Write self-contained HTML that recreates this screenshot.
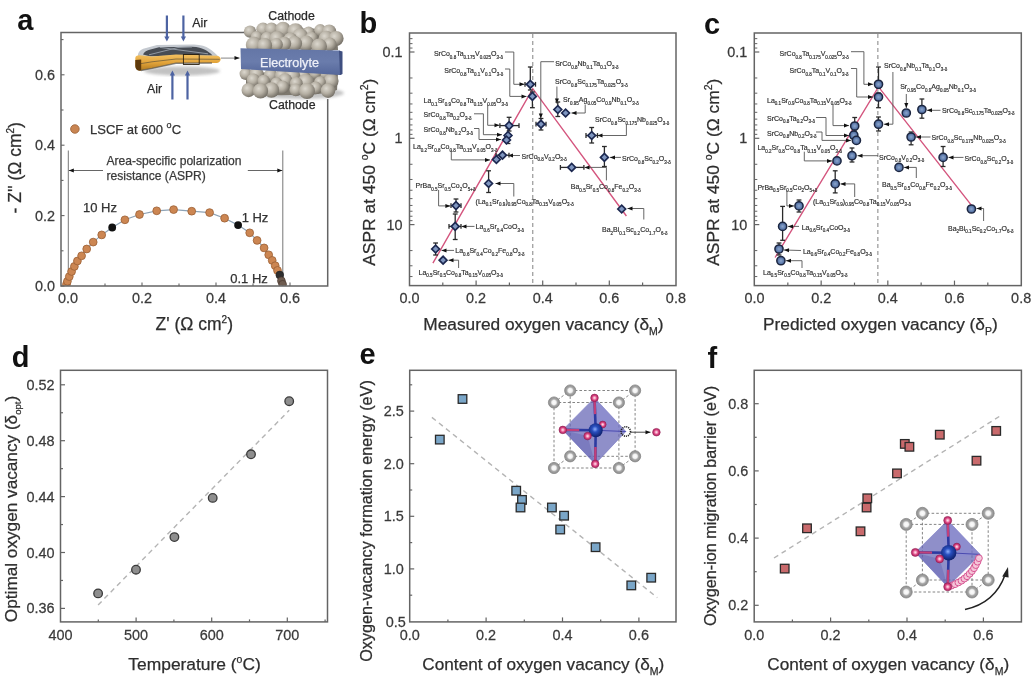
<!DOCTYPE html>
<html><head><meta charset="utf-8"><style>
html,body{margin:0;padding:0;background:#fff;}
svg{display:block;font-family:"Liberation Sans",sans-serif;filter:blur(0.3px);}

</style></head><body>
<svg width="1035" height="691" viewBox="0 0 1035 691">
<rect width="1035" height="691" fill="#fff"/>
<text x="17.20" y="29.60" font-size="29" text-anchor="start" fill="#111" stroke="#111" stroke-width="0" font-weight="bold" >a</text>
<text x="359.60" y="33.00" font-size="29" text-anchor="start" fill="#111" stroke="#111" stroke-width="0" font-weight="bold" >b</text>
<text x="704.00" y="33.50" font-size="29" text-anchor="start" fill="#111" stroke="#111" stroke-width="0" font-weight="bold" >c</text>
<text x="11.80" y="367.20" font-size="29" text-anchor="start" fill="#111" stroke="#111" stroke-width="0" font-weight="bold" >d</text>
<text x="359.60" y="364.00" font-size="29" text-anchor="start" fill="#111" stroke="#111" stroke-width="0" font-weight="bold" >e</text>
<text x="707.60" y="368.30" font-size="29" text-anchor="start" fill="#111" stroke="#111" stroke-width="0" font-weight="bold" >f</text>
<line x1="68.00" y1="286.00" x2="68.00" y2="282.50" stroke="#646464" stroke-width="1.1" />
<line x1="105.00" y1="286.00" x2="105.00" y2="283.50" stroke="#646464" stroke-width="1.1" />
<line x1="142.00" y1="286.00" x2="142.00" y2="282.50" stroke="#646464" stroke-width="1.1" />
<line x1="179.00" y1="286.00" x2="179.00" y2="283.50" stroke="#646464" stroke-width="1.1" />
<line x1="216.00" y1="286.00" x2="216.00" y2="282.50" stroke="#646464" stroke-width="1.1" />
<line x1="253.00" y1="286.00" x2="253.00" y2="283.50" stroke="#646464" stroke-width="1.1" />
<line x1="290.00" y1="286.00" x2="290.00" y2="282.50" stroke="#646464" stroke-width="1.1" />
<line x1="61.00" y1="286.00" x2="64.50" y2="286.00" stroke="#646464" stroke-width="1.1" />
<line x1="61.00" y1="250.80" x2="63.50" y2="250.80" stroke="#646464" stroke-width="1.1" />
<line x1="61.00" y1="215.60" x2="64.50" y2="215.60" stroke="#646464" stroke-width="1.1" />
<line x1="61.00" y1="180.40" x2="63.50" y2="180.40" stroke="#646464" stroke-width="1.1" />
<line x1="61.00" y1="145.20" x2="64.50" y2="145.20" stroke="#646464" stroke-width="1.1" />
<line x1="61.00" y1="110.00" x2="63.50" y2="110.00" stroke="#646464" stroke-width="1.1" />
<line x1="61.00" y1="74.80" x2="64.50" y2="74.80" stroke="#646464" stroke-width="1.1" />
<line x1="61.00" y1="39.60" x2="63.50" y2="39.60" stroke="#646464" stroke-width="1.1" />
<text transform="translate(68.00,303.00) scale(0.95,1)" font-size="15.2" text-anchor="middle" fill="#3a3a3a" stroke="#3a3a3a" stroke-width="0.25">0.0</text>
<text transform="translate(55.00,291.00) scale(0.95,1)" font-size="15.2" text-anchor="end" fill="#3a3a3a" stroke="#3a3a3a" stroke-width="0.25">0.0</text>
<text transform="translate(142.00,303.00) scale(0.95,1)" font-size="15.2" text-anchor="middle" fill="#3a3a3a" stroke="#3a3a3a" stroke-width="0.25">0.2</text>
<text transform="translate(55.00,220.60) scale(0.95,1)" font-size="15.2" text-anchor="end" fill="#3a3a3a" stroke="#3a3a3a" stroke-width="0.25">0.2</text>
<text transform="translate(216.00,303.00) scale(0.95,1)" font-size="15.2" text-anchor="middle" fill="#3a3a3a" stroke="#3a3a3a" stroke-width="0.25">0.4</text>
<text transform="translate(55.00,150.20) scale(0.95,1)" font-size="15.2" text-anchor="end" fill="#3a3a3a" stroke="#3a3a3a" stroke-width="0.25">0.4</text>
<text transform="translate(290.00,303.00) scale(0.95,1)" font-size="15.2" text-anchor="middle" fill="#3a3a3a" stroke="#3a3a3a" stroke-width="0.25">0.6</text>
<text transform="translate(55.00,79.80) scale(0.95,1)" font-size="15.2" text-anchor="end" fill="#3a3a3a" stroke="#3a3a3a" stroke-width="0.25">0.6</text>
<text x="194.30" y="329.50" font-size="17.5" text-anchor="middle" fill="#2e2e2e" stroke="#2e2e2e" stroke-width="0.25" font-weight="normal" >Z' (&#937; cm<tspan font-size='10' dy='-7'>2</tspan><tspan dy='7'>)</tspan></text>
<g transform="translate(20.5,167.8) rotate(-90)">
<text x="0.00" y="0.00" font-size="17.5" text-anchor="middle" fill="#2e2e2e" stroke="#2e2e2e" stroke-width="0.25" font-weight="normal" >- Z'' (&#937; cm<tspan font-size='10' dy='-7'>2</tspan><tspan dy='7'>)</tspan></text>
</g>
<line x1="68.30" y1="150.50" x2="68.30" y2="286.00" stroke="#777" stroke-width="1" />
<line x1="282.80" y1="150.50" x2="282.80" y2="286.00" stroke="#777" stroke-width="1" />
<path d="M103.00,170.50 L68.80,170.50" fill="none" stroke="#555" stroke-width="0.9"/>
<path d="M68.80,170.50 L73.80,168.50 L73.80,172.50 Z" fill="#111"/>
<path d="M247.80,170.50 L282.30,170.50" fill="none" stroke="#555" stroke-width="0.9"/>
<path d="M282.30,170.50 L277.30,172.50 L277.30,168.50 Z" fill="#111"/>
<text x="106.40" y="165.20" font-size="12.1" text-anchor="start" fill="#3a3a3a" stroke="#3a3a3a" stroke-width="0.25" font-weight="normal" >Area-specific polarization</text>
<text x="106.40" y="179.50" font-size="12.1" text-anchor="start" fill="#3a3a3a" stroke="#3a3a3a" stroke-width="0.25" font-weight="normal" >resistance (ASPR)</text>
<circle cx="74.9" cy="129" r="4.3" fill="#c98552" stroke="#9a5f35" stroke-width="0.8"/>
<text x="90.00" y="133.50" font-size="13" text-anchor="start" fill="#333" stroke="#333" stroke-width="0.25" font-weight="normal" >LSCF at 600 <tspan font-size="9" dy="-6">o</tspan><tspan dy="6">C</tspan></text>
<clipPath id="clipa"><rect x="61" y="32.5" width="266.7" height="253.3"/></clipPath><g clip-path="url(#clipa)">
<path d="M66.5,284.3 L67.4,281.3 L69.3,276.6 L71.6,271.5 L74.4,266.4 L77.4,261.0 L81.6,255.8 L86.7,249.0 L93.2,242.1 L101.7,234.9 L112.2,227.5 L124.9,219.8 L139.5,214.5 L156.7,210.8 L173.6,209.6 L191.7,211.2 L209.6,212.6 L224.6,218.2 L238.1,225.1 L249.7,232.8 L257.1,240.4 L264.1,247.9 L268.7,254.8 L272.2,260.4 L275.2,265.7 L277.5,270.4 L279.8,275.0 L281.4,280.8 L282.6,284.3" fill="none" stroke="#8ea3b6" stroke-width="1.2"/>
<circle cx="66.5" cy="284.3" r="3.9" fill="#cc8652" stroke="#9a5f35" stroke-width="0.8"/>
<circle cx="67.4" cy="281.3" r="3.9" fill="#cc8652" stroke="#9a5f35" stroke-width="0.8"/>
<circle cx="69.3" cy="276.6" r="3.9" fill="#cc8652" stroke="#9a5f35" stroke-width="0.8"/>
<circle cx="71.6" cy="271.5" r="3.9" fill="#cc8652" stroke="#9a5f35" stroke-width="0.8"/>
<circle cx="74.4" cy="266.4" r="3.9" fill="#cc8652" stroke="#9a5f35" stroke-width="0.8"/>
<circle cx="77.4" cy="261" r="3.9" fill="#cc8652" stroke="#9a5f35" stroke-width="0.8"/>
<circle cx="81.6" cy="255.8" r="3.9" fill="#cc8652" stroke="#9a5f35" stroke-width="0.8"/>
<circle cx="86.7" cy="249" r="3.9" fill="#cc8652" stroke="#9a5f35" stroke-width="0.8"/>
<circle cx="93.2" cy="242.1" r="3.9" fill="#cc8652" stroke="#9a5f35" stroke-width="0.8"/>
<circle cx="101.7" cy="234.9" r="3.9" fill="#cc8652" stroke="#9a5f35" stroke-width="0.8"/>
<circle cx="112.2" cy="227.5" r="3.9" fill="#111"/>
<circle cx="124.9" cy="219.8" r="3.9" fill="#cc8652" stroke="#9a5f35" stroke-width="0.8"/>
<circle cx="139.5" cy="214.5" r="3.9" fill="#cc8652" stroke="#9a5f35" stroke-width="0.8"/>
<circle cx="156.7" cy="210.8" r="3.9" fill="#cc8652" stroke="#9a5f35" stroke-width="0.8"/>
<circle cx="173.6" cy="209.6" r="3.9" fill="#cc8652" stroke="#9a5f35" stroke-width="0.8"/>
<circle cx="191.7" cy="211.2" r="3.9" fill="#cc8652" stroke="#9a5f35" stroke-width="0.8"/>
<circle cx="209.6" cy="212.6" r="3.9" fill="#cc8652" stroke="#9a5f35" stroke-width="0.8"/>
<circle cx="224.6" cy="218.2" r="3.9" fill="#cc8652" stroke="#9a5f35" stroke-width="0.8"/>
<circle cx="238.1" cy="225.1" r="3.9" fill="#111"/>
<circle cx="249.7" cy="232.8" r="3.9" fill="#cc8652" stroke="#9a5f35" stroke-width="0.8"/>
<circle cx="257.1" cy="240.4" r="3.9" fill="#cc8652" stroke="#9a5f35" stroke-width="0.8"/>
<circle cx="264.1" cy="247.9" r="3.9" fill="#cc8652" stroke="#9a5f35" stroke-width="0.8"/>
<circle cx="268.7" cy="254.8" r="3.9" fill="#cc8652" stroke="#9a5f35" stroke-width="0.8"/>
<circle cx="272.2" cy="260.4" r="3.9" fill="#cc8652" stroke="#9a5f35" stroke-width="0.8"/>
<circle cx="275.2" cy="265.7" r="3.9" fill="#cc8652" stroke="#9a5f35" stroke-width="0.8"/>
<circle cx="277.5" cy="270.4" r="3.9" fill="#cc8652" stroke="#9a5f35" stroke-width="0.8"/>
<circle cx="279.8" cy="275" r="3.9" fill="#2e2e2e" stroke="#222" stroke-width="0.6"/>
<circle cx="281.4" cy="280.8" r="3.9" fill="#6e5c50" stroke="#4a3a30" stroke-width="0.7"/>
<circle cx="282.6" cy="284.3" r="3.9" fill="#6e5c50" stroke="#4a3a30" stroke-width="0.7"/>
</g>
<text x="100.00" y="211.50" font-size="13" text-anchor="middle" fill="#333" stroke="#333" stroke-width="0.25" font-weight="normal" >10 Hz</text>
<text x="255.00" y="221.50" font-size="13" text-anchor="middle" fill="#333" stroke="#333" stroke-width="0.25" font-weight="normal" >1 Hz</text>
<text x="249.00" y="282.50" font-size="13" text-anchor="middle" fill="#333" stroke="#333" stroke-width="0.25" font-weight="normal" >0.1 Hz</text>
<path d="M246,32.5 L61,32.5 L61,286 L327.7,286 L327.7,99" fill="none" stroke="#646464" stroke-width="1.5"/>
<defs>
<radialGradient id="sph" cx="0.38" cy="0.35" r="0.7">
 <stop offset="0" stop-color="#dcd8cf"/><stop offset="0.5" stop-color="#b5afa3"/><stop offset="1" stop-color="#6f6a61"/>
</radialGradient>
<radialGradient id="gsph" cx="0.5" cy="0.5" r="0.5">
 <stop offset="0" stop-color="#fdfdfd"/><stop offset="0.38" stop-color="#f2f2f2"/><stop offset="0.62" stop-color="#a8a8a8"/><stop offset="1" stop-color="#8a8a8a"/>
</radialGradient>
<radialGradient id="bsph" cx="0.45" cy="0.42" r="0.6">
 <stop offset="0" stop-color="#8fb0ff"/><stop offset="0.35" stop-color="#2a50c0"/><stop offset="1" stop-color="#0c1d66"/>
</radialGradient>
<radialGradient id="psph" cx="0.5" cy="0.5" r="0.5">
 <stop offset="0" stop-color="#ffe6f0"/><stop offset="0.3" stop-color="#f4a0c0"/><stop offset="0.62" stop-color="#d8407e"/><stop offset="1" stop-color="#b02a66"/>
</radialGradient>
<linearGradient id="elec" x1="0" y1="0" x2="0" y2="1">
 <stop offset="0" stop-color="#6476a6"/><stop offset="0.5" stop-color="#6a7cac"/><stop offset="1" stop-color="#55679a"/>
</linearGradient>
<linearGradient id="gold" x1="0" y1="0" x2="0" y2="1">
 <stop offset="0" stop-color="#f2c060"/><stop offset="0.5" stop-color="#e3a43a"/><stop offset="1" stop-color="#b07a20"/>
</linearGradient>
<radialGradient id="csph" cx="0.5" cy="0.5" r="0.5">
 <stop offset="0" stop-color="#8ea6cc"/><stop offset="0.55" stop-color="#6482b2"/><stop offset="1" stop-color="#4a6496"/>
</radialGradient>
<filter id="blur1"><feGaussianBlur stdDeviation="1.6"/></filter>
</defs>
<ellipse cx="300" cy="93" rx="44" ry="6" fill="#888" opacity="0.5" filter="url(#blur1)"/>
<path d="M252,34 Q262,28 290,29 Q325,27 337,34 L338,50 L248,49 Z" fill="#7d786e"/>
<path d="M246,72 L338,74 L337,90 Q320,96 290,95 Q258,96 246,90 Z" fill="#7d786e"/>
<circle cx="263.0" cy="29.2" r="6.7" fill="url(#sph)"/>
<circle cx="271.4" cy="29.3" r="6.8" fill="url(#sph)"/>
<circle cx="283.0" cy="29.5" r="7.8" fill="url(#sph)"/>
<circle cx="320.2" cy="30.2" r="6.1" fill="url(#sph)"/>
<circle cx="295.5" cy="31.3" r="8.1" fill="url(#sph)"/>
<circle cx="329.1" cy="31.6" r="7.2" fill="url(#sph)"/>
<circle cx="250.0" cy="31.6" r="6.2" fill="url(#sph)"/>
<circle cx="308.6" cy="32.4" r="5.9" fill="url(#sph)"/>
<circle cx="300.1" cy="36.5" r="8.2" fill="url(#sph)"/>
<circle cx="256.5" cy="36.8" r="5.9" fill="url(#sph)"/>
<circle cx="311.5" cy="38.0" r="6.2" fill="url(#sph)"/>
<circle cx="326.2" cy="38.3" r="7.6" fill="url(#sph)"/>
<circle cx="267.1" cy="38.3" r="6.6" fill="url(#sph)"/>
<circle cx="336.1" cy="38.4" r="7.5" fill="url(#sph)"/>
<circle cx="277.1" cy="38.8" r="7.7" fill="url(#sph)"/>
<circle cx="290.4" cy="39.5" r="7.1" fill="url(#sph)"/>
<circle cx="306.1" cy="43.3" r="7.9" fill="url(#sph)"/>
<circle cx="294.5" cy="43.5" r="7.6" fill="url(#sph)"/>
<circle cx="284.3" cy="43.7" r="6.9" fill="url(#sph)"/>
<circle cx="329.7" cy="44.4" r="6.8" fill="url(#sph)"/>
<circle cx="276.4" cy="44.5" r="6.5" fill="url(#sph)"/>
<circle cx="253.9" cy="44.9" r="8.1" fill="url(#sph)"/>
<circle cx="264.6" cy="45.6" r="7.5" fill="url(#sph)"/>
<circle cx="319.1" cy="46.3" r="7.9" fill="url(#sph)"/>
<circle cx="324.6" cy="73.2" r="6.6" fill="url(#sph)"/>
<circle cx="315.1" cy="73.3" r="5.9" fill="url(#sph)"/>
<circle cx="245.8" cy="73.9" r="6.2" fill="url(#sph)"/>
<circle cx="256.6" cy="74.1" r="7.2" fill="url(#sph)"/>
<circle cx="302.7" cy="74.6" r="6.7" fill="url(#sph)"/>
<circle cx="270.6" cy="75.3" r="6.7" fill="url(#sph)"/>
<circle cx="282.0" cy="75.5" r="7.0" fill="url(#sph)"/>
<circle cx="292.3" cy="76.1" r="8.0" fill="url(#sph)"/>
<circle cx="253.3" cy="80.1" r="6.7" fill="url(#sph)"/>
<circle cx="285.2" cy="80.3" r="7.0" fill="url(#sph)"/>
<circle cx="263.7" cy="81.0" r="6.2" fill="url(#sph)"/>
<circle cx="331.1" cy="81.0" r="7.5" fill="url(#sph)"/>
<circle cx="320.0" cy="82.1" r="5.9" fill="url(#sph)"/>
<circle cx="305.8" cy="82.1" r="8.1" fill="url(#sph)"/>
<circle cx="296.3" cy="83.3" r="6.4" fill="url(#sph)"/>
<circle cx="276.5" cy="83.4" r="6.1" fill="url(#sph)"/>
<circle cx="282.4" cy="87.1" r="6.7" fill="url(#sph)"/>
<circle cx="315.7" cy="87.9" r="6.3" fill="url(#sph)"/>
<circle cx="295.8" cy="89.8" r="6.4" fill="url(#sph)"/>
<circle cx="271.4" cy="90.0" r="7.8" fill="url(#sph)"/>
<circle cx="248.6" cy="90.1" r="7.1" fill="url(#sph)"/>
<circle cx="328.0" cy="90.6" r="7.3" fill="url(#sph)"/>
<circle cx="260.5" cy="90.9" r="7.7" fill="url(#sph)"/>
<circle cx="307.0" cy="91.0" r="8.0" fill="url(#sph)"/>
<path d="M240.5,48.3 L339,50.4 L341.5,52 L341.5,74.5 L340,75 L241,69 Z" fill="url(#elec)"/>
<path d="M339,50.4 L342.5,51.5 L342.5,74 L340,75 Z" fill="#3f4f80"/>
<text x="289.50" y="66.50" font-size="12.6" text-anchor="middle" fill="#eef0f8" stroke="#eef0f8" stroke-width="0.25" font-weight="normal" >Electrolyte</text>
<text x="291.50" y="20.30" font-size="12.3" text-anchor="middle" fill="#2a2a2a" stroke="#2a2a2a" stroke-width="0.25" font-weight="normal" >Cathode</text>
<text x="292.30" y="108.80" font-size="12.3" text-anchor="middle" fill="#2a2a2a" stroke="#2a2a2a" stroke-width="0.25" font-weight="normal" >Cathode</text>
<ellipse cx="182" cy="71" rx="38" ry="4.5" fill="#9a9a9a" opacity="0.6" filter="url(#blur1)"/>
<path d="M138,54 C139,50.5 142,48.8 146,48 L157,45 L194,44.6 C201,45 206,46.5 209,48.5 C213,51 216.5,54 219,57.5 L183,56.5 L150,57.5 L138,58 Z" fill="#c4c9d0"/>
<path d="M143,54.5 C144,51.8 147,50.2 150.5,49.4 L159,47.2 L192,46.8 C198,47 202,48.2 205,49.8 C208,51.5 210.5,53.3 212.5,55.5 L183,55.2 L150,56.3 Z" fill="#474c54"/>
<path d="M160,47.4 L208,53.8 M149,54.8 L178,47.5 L192,47" stroke="#98a0aa" stroke-width="0.9" fill="none"/>
<path d="M135.3,58 C135.5,56 137,55.2 139.5,55.3 L152,56.5 L176,54.6 L217,55.8 C219.8,56.2 221,58 220.6,59.8 C220.2,61.8 218.8,62.8 216.5,63 L176,63.2 L152,68.4 L141,70.5 C137.5,70.8 135.3,68.5 135.3,65 Z" fill="url(#gold)"/>
<path d="M141,63.6 L152,61.8 L176,59.0 L219.8,59.3" stroke="#6a5a3a" stroke-width="1.0" fill="none" opacity="0.75"/>
<path d="M141,70.5 L152,68.4 L176,63.2 L212,63" stroke="#555" stroke-width="1.4" fill="none" opacity="0.7"/>
<path d="M135.3,60 L135.3,66 C135.3,69 137,70.8 140,70.8 L141.2,70.6 L141.2,59.5 Z" fill="#5e3a0c"/>
<rect x="183.4" y="54.5" width="15.8" height="10.0" fill="none" stroke="#2a2010" stroke-width="0.9"/>
<path d="M221.00,58.10 L239.50,58.10" fill="none" stroke="#666" stroke-width="0.8"/>
<path d="M239.50,58.10 L234.50,60.10 L234.50,56.10 Z" fill="#111"/>
<line x1="166.9" y1="15.5" x2="166.9" y2="37.5" stroke="#4d63a2" stroke-width="2.2"/>
<path d="M164.3,36.5 L169.5,36.5 L166.9,41.5 Z" fill="#4d63a2"/>
<line x1="183.4" y1="15.5" x2="183.4" y2="37.5" stroke="#4d63a2" stroke-width="2.2"/>
<path d="M180.8,36.5 L186.0,36.5 L183.4,41.5 Z" fill="#4d63a2"/>
<line x1="172.4" y1="99.5" x2="172.4" y2="74.5" stroke="#4d63a2" stroke-width="2.2"/>
<path d="M169.8,75.5 L175.0,75.5 L172.4,70.5 Z" fill="#4d63a2"/>
<line x1="187.5" y1="99.5" x2="187.5" y2="74.5" stroke="#4d63a2" stroke-width="2.2"/>
<path d="M184.9,75.5 L190.1,75.5 L187.5,70.5 Z" fill="#4d63a2"/>
<text x="199.80" y="27.30" font-size="12.3" text-anchor="middle" fill="#2a2a2a" stroke="#2a2a2a" stroke-width="0.25" font-weight="normal" >Air</text>
<text x="154.60" y="93.30" font-size="12.3" text-anchor="middle" fill="#2a2a2a" stroke="#2a2a2a" stroke-width="0.25" font-weight="normal" >Air</text>
<line x1="442.80" y1="285.60" x2="442.80" y2="282.60" stroke="#646464" stroke-width="1.2" />
<line x1="476.10" y1="285.60" x2="476.10" y2="280.60" stroke="#646464" stroke-width="1.2" />
<line x1="509.40" y1="285.60" x2="509.40" y2="282.60" stroke="#646464" stroke-width="1.2" />
<line x1="542.70" y1="285.60" x2="542.70" y2="280.60" stroke="#646464" stroke-width="1.2" />
<line x1="576.00" y1="285.60" x2="576.00" y2="282.60" stroke="#646464" stroke-width="1.2" />
<line x1="609.30" y1="285.60" x2="609.30" y2="280.60" stroke="#646464" stroke-width="1.2" />
<line x1="642.60" y1="285.60" x2="642.60" y2="282.60" stroke="#646464" stroke-width="1.2" />
<line x1="409.50" y1="38.63" x2="412.50" y2="38.63" stroke="#646464" stroke-width="1.0" />
<line x1="409.50" y1="43.64" x2="412.50" y2="43.64" stroke="#646464" stroke-width="1.0" />
<line x1="409.50" y1="48.05" x2="412.50" y2="48.05" stroke="#646464" stroke-width="1.0" />
<line x1="409.50" y1="52.00" x2="414.50" y2="52.00" stroke="#646464" stroke-width="1.2" />
<line x1="409.50" y1="77.98" x2="412.50" y2="77.98" stroke="#646464" stroke-width="1.0" />
<line x1="409.50" y1="93.18" x2="412.50" y2="93.18" stroke="#646464" stroke-width="1.0" />
<line x1="409.50" y1="103.96" x2="412.50" y2="103.96" stroke="#646464" stroke-width="1.0" />
<line x1="409.50" y1="112.32" x2="412.50" y2="112.32" stroke="#646464" stroke-width="1.0" />
<line x1="409.50" y1="119.15" x2="412.50" y2="119.15" stroke="#646464" stroke-width="1.0" />
<line x1="409.50" y1="124.93" x2="412.50" y2="124.93" stroke="#646464" stroke-width="1.0" />
<line x1="409.50" y1="129.94" x2="412.50" y2="129.94" stroke="#646464" stroke-width="1.0" />
<line x1="409.50" y1="134.35" x2="412.50" y2="134.35" stroke="#646464" stroke-width="1.0" />
<line x1="409.50" y1="138.30" x2="414.50" y2="138.30" stroke="#646464" stroke-width="1.2" />
<line x1="409.50" y1="164.28" x2="412.50" y2="164.28" stroke="#646464" stroke-width="1.0" />
<line x1="409.50" y1="179.48" x2="412.50" y2="179.48" stroke="#646464" stroke-width="1.0" />
<line x1="409.50" y1="190.26" x2="412.50" y2="190.26" stroke="#646464" stroke-width="1.0" />
<line x1="409.50" y1="198.62" x2="412.50" y2="198.62" stroke="#646464" stroke-width="1.0" />
<line x1="409.50" y1="205.45" x2="412.50" y2="205.45" stroke="#646464" stroke-width="1.0" />
<line x1="409.50" y1="211.23" x2="412.50" y2="211.23" stroke="#646464" stroke-width="1.0" />
<line x1="409.50" y1="216.24" x2="412.50" y2="216.24" stroke="#646464" stroke-width="1.0" />
<line x1="409.50" y1="220.65" x2="412.50" y2="220.65" stroke="#646464" stroke-width="1.0" />
<line x1="409.50" y1="224.60" x2="414.50" y2="224.60" stroke="#646464" stroke-width="1.2" />
<line x1="409.50" y1="250.58" x2="412.50" y2="250.58" stroke="#646464" stroke-width="1.0" />
<line x1="409.50" y1="265.78" x2="412.50" y2="265.78" stroke="#646464" stroke-width="1.0" />
<line x1="409.50" y1="276.56" x2="412.50" y2="276.56" stroke="#646464" stroke-width="1.0" />
<text transform="translate(409.50,302.70) scale(0.95,1)" font-size="15.2" text-anchor="middle" fill="#3a3a3a" stroke="#3a3a3a" stroke-width="0.25">0.0</text>
<text transform="translate(476.10,302.70) scale(0.95,1)" font-size="15.2" text-anchor="middle" fill="#3a3a3a" stroke="#3a3a3a" stroke-width="0.25">0.2</text>
<text transform="translate(542.70,302.70) scale(0.95,1)" font-size="15.2" text-anchor="middle" fill="#3a3a3a" stroke="#3a3a3a" stroke-width="0.25">0.4</text>
<text transform="translate(609.30,302.70) scale(0.95,1)" font-size="15.2" text-anchor="middle" fill="#3a3a3a" stroke="#3a3a3a" stroke-width="0.25">0.6</text>
<text transform="translate(675.90,302.70) scale(0.95,1)" font-size="15.2" text-anchor="middle" fill="#3a3a3a" stroke="#3a3a3a" stroke-width="0.25">0.8</text>
<text transform="translate(402.50,57.10) scale(0.95,1)" font-size="15.2" text-anchor="end" fill="#3a3a3a" stroke="#3a3a3a" stroke-width="0.25">0.1</text>
<text transform="translate(402.50,143.40) scale(0.95,1)" font-size="15.2" text-anchor="end" fill="#3a3a3a" stroke="#3a3a3a" stroke-width="0.25">1</text>
<text transform="translate(402.50,229.70) scale(0.95,1)" font-size="15.2" text-anchor="end" fill="#3a3a3a" stroke="#3a3a3a" stroke-width="0.25">10</text>
<line x1="532.71" y1="34.00" x2="532.71" y2="284.60" stroke="#a6a6a6" stroke-width="1.4" stroke-dasharray="4,3"/>
<text x="543.40" y="330.20" font-size="17.3" text-anchor="middle" fill="#2e2e2e" stroke="#2e2e2e" stroke-width="0.25" font-weight="normal" >Measured oxygen vacancy (&#948;<tspan font-size="10.5" dy="5">M</tspan><tspan dy="-5">)</tspan></text>
<g transform="translate(374.5,172.2) rotate(-90)">
<text x="0.00" y="0.00" font-size="17.4" text-anchor="middle" fill="#2e2e2e" stroke="#2e2e2e" stroke-width="0.25" font-weight="normal" >ASPR at 450 <tspan font-size="10.5" dy="-7">o</tspan><tspan dy="7">C (&#937; cm</tspan><tspan font-size="10.5" dy="-7">2</tspan><tspan dy="7">)</tspan></text>
</g>
<path d="M432.9,263.2 L532.8,88.7 L626.4,216" fill="none" stroke="#d4557e" stroke-width="1.4"/>
<text x="433.90" y="56.42" font-size="7.0" fill="#303030" stroke="#303030" stroke-width="0.18" text-anchor="start"><tspan dy="0.00">SrCo</tspan><tspan font-size="4.55" dy="2.66">0.8</tspan><tspan dy="-2.66">Ta</tspan><tspan font-size="4.55" dy="2.66">0.175</tspan><tspan dy="-2.66">V</tspan><tspan font-size="4.55" dy="2.66">0.025</tspan><tspan dy="-2.66">O</tspan><tspan font-size="4.55" dy="2.66">3-δ</tspan></text>
<text x="444.30" y="72.92" font-size="7.0" fill="#303030" stroke="#303030" stroke-width="0.18" text-anchor="start"><tspan dy="0.00">SrCo</tspan><tspan font-size="4.55" dy="2.66">0.8</tspan><tspan dy="-2.66">Ta</tspan><tspan font-size="4.55" dy="2.66">0.1</tspan><tspan dy="-2.66">V</tspan><tspan font-size="4.55" dy="2.66">0.1</tspan><tspan dy="-2.66">O</tspan><tspan font-size="4.55" dy="2.66">3-δ</tspan></text>
<text x="423.50" y="103.32" font-size="7.0" fill="#303030" stroke="#303030" stroke-width="0.18" text-anchor="start"><tspan dy="0.00">La</tspan><tspan font-size="4.55" dy="2.66">0.1</tspan><tspan dy="-2.66">Sr</tspan><tspan font-size="4.55" dy="2.66">0.9</tspan><tspan dy="-2.66">Co</tspan><tspan font-size="4.55" dy="2.66">0.8</tspan><tspan dy="-2.66">Ta</tspan><tspan font-size="4.55" dy="2.66">0.15</tspan><tspan dy="-2.66">V</tspan><tspan font-size="4.55" dy="2.66">0.05</tspan><tspan dy="-2.66">O</tspan><tspan font-size="4.55" dy="2.66">3-δ</tspan></text>
<text x="423.50" y="117.22" font-size="7.0" fill="#303030" stroke="#303030" stroke-width="0.18" text-anchor="start"><tspan dy="0.00">SrCo</tspan><tspan font-size="4.55" dy="2.66">0.8</tspan><tspan dy="-2.66">Ta</tspan><tspan font-size="4.55" dy="2.66">0.2</tspan><tspan dy="-2.66">O</tspan><tspan font-size="4.55" dy="2.66">3-δ</tspan></text>
<text x="423.50" y="131.92" font-size="7.0" fill="#303030" stroke="#303030" stroke-width="0.18" text-anchor="start"><tspan dy="0.00">SrCo</tspan><tspan font-size="4.55" dy="2.66">0.8</tspan><tspan dy="-2.66">Nb</tspan><tspan font-size="4.55" dy="2.66">0.2</tspan><tspan dy="-2.66">O</tspan><tspan font-size="4.55" dy="2.66">3-δ</tspan></text>
<text x="413.00" y="149.02" font-size="7.0" fill="#303030" stroke="#303030" stroke-width="0.18" text-anchor="start"><tspan dy="0.00">La</tspan><tspan font-size="4.55" dy="2.66">0.2</tspan><tspan dy="-2.66">Sr</tspan><tspan font-size="4.55" dy="2.66">0.8</tspan><tspan dy="-2.66">Co</tspan><tspan font-size="4.55" dy="2.66">0.8</tspan><tspan dy="-2.66">Ta</tspan><tspan font-size="4.55" dy="2.66">0.15</tspan><tspan dy="-2.66">V</tspan><tspan font-size="4.55" dy="2.66">0.05</tspan><tspan dy="-2.66">O</tspan><tspan font-size="4.55" dy="2.66">3-δ</tspan></text>
<text x="521.60" y="158.52" font-size="7.0" fill="#303030" stroke="#303030" stroke-width="0.18" text-anchor="start"><tspan dy="0.00">SrCo</tspan><tspan font-size="4.55" dy="2.66">0.8</tspan><tspan dy="-2.66">V</tspan><tspan font-size="4.55" dy="2.66">0.2</tspan><tspan dy="-2.66">O</tspan><tspan font-size="4.55" dy="2.66">3-δ</tspan></text>
<text x="415.60" y="188.12" font-size="7.0" fill="#303030" stroke="#303030" stroke-width="0.18" text-anchor="start"><tspan dy="0.00">PrBa</tspan><tspan font-size="4.55" dy="2.66">0.5</tspan><tspan dy="-2.66">Sr</tspan><tspan font-size="4.55" dy="2.66">0.5</tspan><tspan dy="-2.66">Co</tspan><tspan font-size="4.55" dy="2.66">2</tspan><tspan dy="-2.66">O</tspan><tspan font-size="4.55" dy="2.66">5+δ</tspan></text>
<text x="475.60" y="203.72" font-size="7.0" fill="#303030" stroke="#303030" stroke-width="0.18" text-anchor="start"><tspan dy="0.00">(La</tspan><tspan font-size="4.55" dy="2.66">0.1</tspan><tspan dy="-2.66">Sr</tspan><tspan font-size="4.55" dy="2.66">0.9</tspan><tspan dy="-2.66">)</tspan><tspan font-size="4.55" dy="2.66">0.95</tspan><tspan dy="-2.66">Co</tspan><tspan font-size="4.55" dy="2.66">0.8</tspan><tspan dy="-2.66">Ta</tspan><tspan font-size="4.55" dy="2.66">0.15</tspan><tspan dy="-2.66">V</tspan><tspan font-size="4.55" dy="2.66">0.05</tspan><tspan dy="-2.66">O</tspan><tspan font-size="4.55" dy="2.66">3-δ</tspan></text>
<text x="475.60" y="228.92" font-size="7.0" fill="#303030" stroke="#303030" stroke-width="0.18" text-anchor="start"><tspan dy="0.00">La</tspan><tspan font-size="4.55" dy="2.66">0.6</tspan><tspan dy="-2.66">Sr</tspan><tspan font-size="4.55" dy="2.66">0.4</tspan><tspan dy="-2.66">CoO</tspan><tspan font-size="4.55" dy="2.66">3-δ</tspan></text>
<text x="455.30" y="252.92" font-size="7.0" fill="#303030" stroke="#303030" stroke-width="0.18" text-anchor="start"><tspan dy="0.00">La</tspan><tspan font-size="4.55" dy="2.66">0.6</tspan><tspan dy="-2.66">Sr</tspan><tspan font-size="4.55" dy="2.66">0.4</tspan><tspan dy="-2.66">Co</tspan><tspan font-size="4.55" dy="2.66">0.2</tspan><tspan dy="-2.66">Fe</tspan><tspan font-size="4.55" dy="2.66">0.8</tspan><tspan dy="-2.66">O</tspan><tspan font-size="4.55" dy="2.66">3-δ</tspan></text>
<text x="418.50" y="274.52" font-size="7.0" fill="#303030" stroke="#303030" stroke-width="0.18" text-anchor="start"><tspan dy="0.00">La</tspan><tspan font-size="4.55" dy="2.66">0.5</tspan><tspan dy="-2.66">Sr</tspan><tspan font-size="4.55" dy="2.66">0.5</tspan><tspan dy="-2.66">Co</tspan><tspan font-size="4.55" dy="2.66">0.8</tspan><tspan dy="-2.66">Ta</tspan><tspan font-size="4.55" dy="2.66">0.15</tspan><tspan dy="-2.66">V</tspan><tspan font-size="4.55" dy="2.66">0.05</tspan><tspan dy="-2.66">O</tspan><tspan font-size="4.55" dy="2.66">3-δ</tspan></text>
<text x="555.20" y="65.92" font-size="7.0" fill="#303030" stroke="#303030" stroke-width="0.18" text-anchor="start"><tspan dy="0.00">SrCo</tspan><tspan font-size="4.55" dy="2.66">0.8</tspan><tspan dy="-2.66">Nb</tspan><tspan font-size="4.55" dy="2.66">0.1</tspan><tspan dy="-2.66">Ta</tspan><tspan font-size="4.55" dy="2.66">0.1</tspan><tspan dy="-2.66">O</tspan><tspan font-size="4.55" dy="2.66">3-δ</tspan></text>
<text x="555.00" y="84.22" font-size="7.0" fill="#303030" stroke="#303030" stroke-width="0.18" text-anchor="start"><tspan dy="0.00">SrCo</tspan><tspan font-size="4.55" dy="2.66">0.8</tspan><tspan dy="-2.66">Sc</tspan><tspan font-size="4.55" dy="2.66">0.175</tspan><tspan dy="-2.66">Ta</tspan><tspan font-size="4.55" dy="2.66">0.025</tspan><tspan dy="-2.66">O</tspan><tspan font-size="4.55" dy="2.66">3-δ</tspan></text>
<text x="563.00" y="102.42" font-size="7.0" fill="#303030" stroke="#303030" stroke-width="0.18" text-anchor="start"><tspan dy="0.00">Sr</tspan><tspan font-size="4.55" dy="2.66">0.95</tspan><tspan dy="-2.66">Ag</tspan><tspan font-size="4.55" dy="2.66">0.05</tspan><tspan dy="-2.66">Co</tspan><tspan font-size="4.55" dy="2.66">0.9</tspan><tspan dy="-2.66">Nb</tspan><tspan font-size="4.55" dy="2.66">0.1</tspan><tspan dy="-2.66">O</tspan><tspan font-size="4.55" dy="2.66">3-δ</tspan></text>
<text x="595.10" y="122.42" font-size="7.0" fill="#303030" stroke="#303030" stroke-width="0.18" text-anchor="start"><tspan dy="0.00">SrCo</tspan><tspan font-size="4.55" dy="2.66">0.8</tspan><tspan dy="-2.66">Sc</tspan><tspan font-size="4.55" dy="2.66">0.175</tspan><tspan dy="-2.66">Nb</tspan><tspan font-size="4.55" dy="2.66">0.025</tspan><tspan dy="-2.66">O</tspan><tspan font-size="4.55" dy="2.66">3-δ</tspan></text>
<text x="622.00" y="161.22" font-size="7.0" fill="#303030" stroke="#303030" stroke-width="0.18" text-anchor="start"><tspan dy="0.00">SrCo</tspan><tspan font-size="4.55" dy="2.66">0.8</tspan><tspan dy="-2.66">Sc</tspan><tspan font-size="4.55" dy="2.66">0.2</tspan><tspan dy="-2.66">O</tspan><tspan font-size="4.55" dy="2.66">3-δ</tspan></text>
<text x="570.80" y="189.02" font-size="7.0" fill="#303030" stroke="#303030" stroke-width="0.18" text-anchor="start"><tspan dy="0.00">Ba</tspan><tspan font-size="4.55" dy="2.66">0.5</tspan><tspan dy="-2.66">Sr</tspan><tspan font-size="4.55" dy="2.66">0.5</tspan><tspan dy="-2.66">Co</tspan><tspan font-size="4.55" dy="2.66">0.8</tspan><tspan dy="-2.66">Fe</tspan><tspan font-size="4.55" dy="2.66">0.2</tspan><tspan dy="-2.66">O</tspan><tspan font-size="4.55" dy="2.66">3-δ</tspan></text>
<text x="602.00" y="232.42" font-size="7.0" fill="#303030" stroke="#303030" stroke-width="0.18" text-anchor="start"><tspan dy="0.00">Ba</tspan><tspan font-size="4.55" dy="2.66">2</tspan><tspan dy="-2.66">Bi</tspan><tspan font-size="4.55" dy="2.66">0.1</tspan><tspan dy="-2.66">Sc</tspan><tspan font-size="4.55" dy="2.66">0.2</tspan><tspan dy="-2.66">Co</tspan><tspan font-size="4.55" dy="2.66">1.7</tspan><tspan dy="-2.66">O</tspan><tspan font-size="4.55" dy="2.66">6-δ</tspan></text>
<path d="M505.00,52.00 L513.80,52.00 L513.80,84.30 L524.50,84.30" fill="none" stroke="#555" stroke-width="0.9"/>
<path d="M524.50,84.30 L519.50,86.30 L519.50,82.30 Z" fill="#111"/>
<path d="M505.00,69.00 L509.80,69.00 L509.80,96.40 L526.50,96.40" fill="none" stroke="#555" stroke-width="0.9"/>
<path d="M526.50,96.40 L521.50,98.40 L521.50,94.40 Z" fill="#111"/>
<path d="M487.70,104.50 L487.70,125.30 L499.50,125.30" fill="none" stroke="#555" stroke-width="0.9"/>
<path d="M499.50,125.30 L494.50,127.30 L494.50,123.30 Z" fill="#111"/>
<path d="M474.00,113.80 L483.40,113.80 L483.40,134.70 L502.00,134.70" fill="none" stroke="#555" stroke-width="0.9"/>
<path d="M502.00,134.70 L497.00,136.70 L497.00,132.70 Z" fill="#111"/>
<path d="M474.00,128.50 L479.00,128.50 L479.00,139.50 L501.00,139.50" fill="none" stroke="#555" stroke-width="0.9"/>
<path d="M501.00,139.50 L496.00,141.50 L496.00,137.50 Z" fill="#111"/>
<path d="M451.30,150.00 L451.30,159.90 L490.00,159.90" fill="none" stroke="#555" stroke-width="0.9"/>
<path d="M490.00,159.90 L485.00,161.90 L485.00,157.90 Z" fill="#111"/>
<path d="M520.00,155.50 L508.00,155.50" fill="none" stroke="#555" stroke-width="0.9"/>
<path d="M508.00,155.50 L513.00,153.50 L513.00,157.50 Z" fill="#111"/>
<path d="M438.60,190.00 L438.60,205.90 L450.40,205.90" fill="none" stroke="#555" stroke-width="0.9"/>
<path d="M450.40,205.90 L445.40,207.90 L445.40,203.90 Z" fill="#111"/>
<path d="M513.80,196.50 L513.80,183.50 L495.50,183.50" fill="none" stroke="#555" stroke-width="0.9"/>
<path d="M495.50,183.50 L500.50,181.50 L500.50,185.50 Z" fill="#111"/>
<path d="M474.50,226.40 L461.50,226.40" fill="none" stroke="#555" stroke-width="0.9"/>
<path d="M461.50,226.40 L466.50,224.40 L466.50,228.40 Z" fill="#111"/>
<path d="M454.00,250.40 L441.50,250.40" fill="none" stroke="#555" stroke-width="0.9"/>
<path d="M441.50,250.40 L446.50,248.40 L446.50,252.40 Z" fill="#111"/>
<path d="M458.60,268.00 L458.60,260.20 L448.50,260.20" fill="none" stroke="#555" stroke-width="0.9"/>
<path d="M448.50,260.20 L453.50,258.20 L453.50,262.20 Z" fill="#111"/>
<path d="M554.00,61.70 L540.80,61.70 L540.80,118.50" fill="none" stroke="#555" stroke-width="0.9"/>
<path d="M540.80,118.50 L538.80,113.50 L542.80,113.50 Z" fill="#111"/>
<path d="M556.90,86.50 L556.90,103.50" fill="none" stroke="#555" stroke-width="0.9"/>
<path d="M556.90,103.50 L554.90,98.50 L558.90,98.50 Z" fill="#111"/>
<path d="M585.20,104.50 L585.20,113.00 L571.50,113.00" fill="none" stroke="#555" stroke-width="0.9"/>
<path d="M571.50,113.00 L576.50,111.00 L576.50,115.00 Z" fill="#111"/>
<path d="M626.40,124.00 L626.40,135.50 L597.50,135.50" fill="none" stroke="#555" stroke-width="0.9"/>
<path d="M597.50,135.50 L602.50,133.50 L602.50,137.50 Z" fill="#111"/>
<path d="M621.00,157.40 L610.00,157.40" fill="none" stroke="#555" stroke-width="0.9"/>
<path d="M610.00,157.40 L615.00,155.40 L615.00,159.40 Z" fill="#111"/>
<path d="M606.40,180.40 L606.40,167.40 L584.50,167.40" fill="none" stroke="#555" stroke-width="0.9"/>
<path d="M584.50,167.40 L589.50,165.40 L589.50,169.40 Z" fill="#111"/>
<path d="M643.80,219.50 L643.80,208.50 L627.50,208.50" fill="none" stroke="#555" stroke-width="0.9"/>
<path d="M627.50,208.50 L632.50,206.50 L632.50,210.50 Z" fill="#111"/>
<line x1="530.30" y1="67.00" x2="530.30" y2="90.00" stroke="#2a2a2a" stroke-width="1.3" />
<line x1="527.90" y1="67.00" x2="532.70" y2="67.00" stroke="#2a2a2a" stroke-width="1.3" />
<line x1="527.90" y1="90.00" x2="532.70" y2="90.00" stroke="#2a2a2a" stroke-width="1.3" />
<line x1="525.00" y1="84.30" x2="535.50" y2="84.30" stroke="#2a2a2a" stroke-width="1.3" />
<line x1="525.00" y1="81.90" x2="525.00" y2="86.70" stroke="#2a2a2a" stroke-width="1.3" />
<line x1="535.50" y1="81.90" x2="535.50" y2="86.70" stroke="#2a2a2a" stroke-width="1.3" />
<line x1="532.40" y1="92.00" x2="532.40" y2="107.70" stroke="#2a2a2a" stroke-width="1.3" />
<line x1="530.00" y1="92.00" x2="534.80" y2="92.00" stroke="#2a2a2a" stroke-width="1.3" />
<line x1="530.00" y1="107.70" x2="534.80" y2="107.70" stroke="#2a2a2a" stroke-width="1.3" />
<line x1="499.90" y1="125.60" x2="519.00" y2="125.60" stroke="#2a2a2a" stroke-width="1.3" />
<line x1="499.90" y1="123.20" x2="499.90" y2="128.00" stroke="#2a2a2a" stroke-width="1.3" />
<line x1="519.00" y1="123.20" x2="519.00" y2="128.00" stroke="#2a2a2a" stroke-width="1.3" />
<line x1="509.10" y1="117.30" x2="509.10" y2="131.00" stroke="#2a2a2a" stroke-width="1.3" />
<line x1="506.70" y1="117.30" x2="511.50" y2="117.30" stroke="#2a2a2a" stroke-width="1.3" />
<line x1="506.70" y1="131.00" x2="511.50" y2="131.00" stroke="#2a2a2a" stroke-width="1.3" />
<line x1="508.00" y1="128.00" x2="508.00" y2="143.50" stroke="#2a2a2a" stroke-width="1.3" />
<line x1="505.60" y1="128.00" x2="510.40" y2="128.00" stroke="#2a2a2a" stroke-width="1.3" />
<line x1="505.60" y1="143.50" x2="510.40" y2="143.50" stroke="#2a2a2a" stroke-width="1.3" />
<line x1="496.00" y1="155.20" x2="509.00" y2="155.20" stroke="#2a2a2a" stroke-width="1.3" />
<line x1="496.00" y1="152.80" x2="496.00" y2="157.60" stroke="#2a2a2a" stroke-width="1.3" />
<line x1="509.00" y1="152.80" x2="509.00" y2="157.60" stroke="#2a2a2a" stroke-width="1.3" />
<line x1="488.60" y1="170.80" x2="488.60" y2="192.50" stroke="#2a2a2a" stroke-width="1.3" />
<line x1="486.20" y1="170.80" x2="491.00" y2="170.80" stroke="#2a2a2a" stroke-width="1.3" />
<line x1="486.20" y1="192.50" x2="491.00" y2="192.50" stroke="#2a2a2a" stroke-width="1.3" />
<line x1="456.00" y1="199.00" x2="456.00" y2="212.00" stroke="#2a2a2a" stroke-width="1.3" />
<line x1="453.60" y1="199.00" x2="458.40" y2="199.00" stroke="#2a2a2a" stroke-width="1.3" />
<line x1="453.60" y1="212.00" x2="458.40" y2="212.00" stroke="#2a2a2a" stroke-width="1.3" />
<line x1="451.00" y1="205.60" x2="461.00" y2="205.60" stroke="#2a2a2a" stroke-width="1.3" />
<line x1="451.00" y1="203.20" x2="451.00" y2="208.00" stroke="#2a2a2a" stroke-width="1.3" />
<line x1="461.00" y1="203.20" x2="461.00" y2="208.00" stroke="#2a2a2a" stroke-width="1.3" />
<line x1="455.20" y1="214.00" x2="455.20" y2="239.50" stroke="#2a2a2a" stroke-width="1.3" />
<line x1="452.80" y1="214.00" x2="457.60" y2="214.00" stroke="#2a2a2a" stroke-width="1.3" />
<line x1="452.80" y1="239.50" x2="457.60" y2="239.50" stroke="#2a2a2a" stroke-width="1.3" />
<line x1="449.00" y1="226.40" x2="461.00" y2="226.40" stroke="#2a2a2a" stroke-width="1.3" />
<line x1="449.00" y1="224.00" x2="449.00" y2="228.80" stroke="#2a2a2a" stroke-width="1.3" />
<line x1="461.00" y1="224.00" x2="461.00" y2="228.80" stroke="#2a2a2a" stroke-width="1.3" />
<line x1="435.60" y1="243.00" x2="435.60" y2="255.00" stroke="#2a2a2a" stroke-width="1.3" />
<line x1="433.20" y1="243.00" x2="438.00" y2="243.00" stroke="#2a2a2a" stroke-width="1.3" />
<line x1="433.20" y1="255.00" x2="438.00" y2="255.00" stroke="#2a2a2a" stroke-width="1.3" />
<line x1="541.00" y1="118.50" x2="541.00" y2="130.00" stroke="#2a2a2a" stroke-width="1.3" />
<line x1="538.60" y1="118.50" x2="543.40" y2="118.50" stroke="#2a2a2a" stroke-width="1.3" />
<line x1="538.60" y1="130.00" x2="543.40" y2="130.00" stroke="#2a2a2a" stroke-width="1.3" />
<line x1="536.00" y1="124.20" x2="546.00" y2="124.20" stroke="#2a2a2a" stroke-width="1.3" />
<line x1="536.00" y1="121.80" x2="536.00" y2="126.60" stroke="#2a2a2a" stroke-width="1.3" />
<line x1="546.00" y1="121.80" x2="546.00" y2="126.60" stroke="#2a2a2a" stroke-width="1.3" />
<line x1="557.80" y1="102.00" x2="557.80" y2="116.50" stroke="#2a2a2a" stroke-width="1.3" />
<line x1="555.40" y1="102.00" x2="560.20" y2="102.00" stroke="#2a2a2a" stroke-width="1.3" />
<line x1="555.40" y1="116.50" x2="560.20" y2="116.50" stroke="#2a2a2a" stroke-width="1.3" />
<line x1="591.70" y1="127.50" x2="591.70" y2="143.00" stroke="#2a2a2a" stroke-width="1.3" />
<line x1="589.30" y1="127.50" x2="594.10" y2="127.50" stroke="#2a2a2a" stroke-width="1.3" />
<line x1="589.30" y1="143.00" x2="594.10" y2="143.00" stroke="#2a2a2a" stroke-width="1.3" />
<line x1="586.00" y1="135.50" x2="597.50" y2="135.50" stroke="#2a2a2a" stroke-width="1.3" />
<line x1="586.00" y1="133.10" x2="586.00" y2="137.90" stroke="#2a2a2a" stroke-width="1.3" />
<line x1="597.50" y1="133.10" x2="597.50" y2="137.90" stroke="#2a2a2a" stroke-width="1.3" />
<line x1="604.40" y1="146.50" x2="604.40" y2="166.50" stroke="#2a2a2a" stroke-width="1.3" />
<line x1="602.00" y1="146.50" x2="606.80" y2="146.50" stroke="#2a2a2a" stroke-width="1.3" />
<line x1="602.00" y1="166.50" x2="606.80" y2="166.50" stroke="#2a2a2a" stroke-width="1.3" />
<line x1="560.40" y1="167.40" x2="583.90" y2="167.40" stroke="#2a2a2a" stroke-width="1.3" />
<line x1="560.40" y1="165.00" x2="560.40" y2="169.80" stroke="#2a2a2a" stroke-width="1.3" />
<line x1="583.90" y1="165.00" x2="583.90" y2="169.80" stroke="#2a2a2a" stroke-width="1.3" />
<path d="M526.4,84.3 L530.3,80.39999999999999 L534.1999999999999,84.3 L530.3,88.2 Z" fill="#7f96c0" stroke="#1c2850" stroke-width="1.7"/>
<path d="M528.5,96.4 L532.4,92.5 L536.3,96.4 L532.4,100.30000000000001 Z" fill="#7f96c0" stroke="#1c2850" stroke-width="1.7"/>
<path d="M505.20000000000005,125.6 L509.1,121.69999999999999 L513.0,125.6 L509.1,129.5 Z" fill="#7f96c0" stroke="#1c2850" stroke-width="1.7"/>
<path d="M504.1,135.5 L508.0,131.6 L511.9,135.5 L508.0,139.4 Z" fill="#7f96c0" stroke="#1c2850" stroke-width="1.7"/>
<path d="M502.6,140.0 L506.5,136.1 L510.4,140.0 L506.5,143.9 Z" fill="#7f96c0" stroke="#1c2850" stroke-width="1.7"/>
<path d="M498.6,155.2 L502.5,151.29999999999998 L506.4,155.2 L502.5,159.1 Z" fill="#7f96c0" stroke="#1c2850" stroke-width="1.7"/>
<path d="M492.5,159.5 L496.4,155.6 L500.29999999999995,159.5 L496.4,163.4 Z" fill="#7f96c0" stroke="#1c2850" stroke-width="1.7"/>
<path d="M484.70000000000005,183.5 L488.6,179.6 L492.5,183.5 L488.6,187.4 Z" fill="#7f96c0" stroke="#1c2850" stroke-width="1.7"/>
<path d="M452.1,205.6 L456.0,201.7 L459.9,205.6 L456.0,209.5 Z" fill="#7f96c0" stroke="#1c2850" stroke-width="1.7"/>
<path d="M451.3,226.4 L455.2,222.5 L459.09999999999997,226.4 L455.2,230.3 Z" fill="#7f96c0" stroke="#1c2850" stroke-width="1.7"/>
<path d="M431.70000000000005,249.0 L435.6,245.1 L439.5,249.0 L435.6,252.9 Z" fill="#7f96c0" stroke="#1c2850" stroke-width="1.7"/>
<path d="M439.20000000000005,260.2 L443.1,256.3 L447.0,260.2 L443.1,264.09999999999997 Z" fill="#7f96c0" stroke="#1c2850" stroke-width="1.7"/>
<path d="M537.1,124.2 L541.0,120.3 L544.9,124.2 L541.0,128.1 Z" fill="#7f96c0" stroke="#1c2850" stroke-width="1.7"/>
<path d="M553.9,109.5 L557.8,105.6 L561.6999999999999,109.5 L557.8,113.4 Z" fill="#7f96c0" stroke="#1c2850" stroke-width="1.7"/>
<path d="M561.7,113.0 L565.6,109.1 L569.5,113.0 L565.6,116.9 Z" fill="#7f96c0" stroke="#1c2850" stroke-width="1.7"/>
<path d="M587.8000000000001,135.5 L591.7,131.6 L595.6,135.5 L591.7,139.4 Z" fill="#7f96c0" stroke="#1c2850" stroke-width="1.7"/>
<path d="M600.5,157.4 L604.4,153.5 L608.3,157.4 L604.4,161.3 Z" fill="#7f96c0" stroke="#1c2850" stroke-width="1.7"/>
<path d="M567.8000000000001,167.4 L571.7,163.5 L575.6,167.4 L571.7,171.3 Z" fill="#7f96c0" stroke="#1c2850" stroke-width="1.7"/>
<path d="M617.8000000000001,209.0 L621.7,205.1 L625.6,209.0 L621.7,212.9 Z" fill="#7f96c0" stroke="#1c2850" stroke-width="1.7"/>
<rect x="409.5" y="33" width="266.5" height="252.60000000000002" fill="none" stroke="#646464" stroke-width="1.5"/>
<line x1="787.83" y1="285.60" x2="787.83" y2="282.60" stroke="#646464" stroke-width="1.2" />
<line x1="821.16" y1="285.60" x2="821.16" y2="280.60" stroke="#646464" stroke-width="1.2" />
<line x1="854.49" y1="285.60" x2="854.49" y2="282.60" stroke="#646464" stroke-width="1.2" />
<line x1="887.82" y1="285.60" x2="887.82" y2="280.60" stroke="#646464" stroke-width="1.2" />
<line x1="921.15" y1="285.60" x2="921.15" y2="282.60" stroke="#646464" stroke-width="1.2" />
<line x1="954.48" y1="285.60" x2="954.48" y2="280.60" stroke="#646464" stroke-width="1.2" />
<line x1="987.81" y1="285.60" x2="987.81" y2="282.60" stroke="#646464" stroke-width="1.2" />
<line x1="754.30" y1="38.63" x2="757.30" y2="38.63" stroke="#646464" stroke-width="1.0" />
<line x1="754.30" y1="43.64" x2="757.30" y2="43.64" stroke="#646464" stroke-width="1.0" />
<line x1="754.30" y1="48.05" x2="757.30" y2="48.05" stroke="#646464" stroke-width="1.0" />
<line x1="754.30" y1="52.00" x2="759.30" y2="52.00" stroke="#646464" stroke-width="1.2" />
<line x1="754.30" y1="77.98" x2="757.30" y2="77.98" stroke="#646464" stroke-width="1.0" />
<line x1="754.30" y1="93.18" x2="757.30" y2="93.18" stroke="#646464" stroke-width="1.0" />
<line x1="754.30" y1="103.96" x2="757.30" y2="103.96" stroke="#646464" stroke-width="1.0" />
<line x1="754.30" y1="112.32" x2="757.30" y2="112.32" stroke="#646464" stroke-width="1.0" />
<line x1="754.30" y1="119.15" x2="757.30" y2="119.15" stroke="#646464" stroke-width="1.0" />
<line x1="754.30" y1="124.93" x2="757.30" y2="124.93" stroke="#646464" stroke-width="1.0" />
<line x1="754.30" y1="129.94" x2="757.30" y2="129.94" stroke="#646464" stroke-width="1.0" />
<line x1="754.30" y1="134.35" x2="757.30" y2="134.35" stroke="#646464" stroke-width="1.0" />
<line x1="754.30" y1="138.30" x2="759.30" y2="138.30" stroke="#646464" stroke-width="1.2" />
<line x1="754.30" y1="164.28" x2="757.30" y2="164.28" stroke="#646464" stroke-width="1.0" />
<line x1="754.30" y1="179.48" x2="757.30" y2="179.48" stroke="#646464" stroke-width="1.0" />
<line x1="754.30" y1="190.26" x2="757.30" y2="190.26" stroke="#646464" stroke-width="1.0" />
<line x1="754.30" y1="198.62" x2="757.30" y2="198.62" stroke="#646464" stroke-width="1.0" />
<line x1="754.30" y1="205.45" x2="757.30" y2="205.45" stroke="#646464" stroke-width="1.0" />
<line x1="754.30" y1="211.23" x2="757.30" y2="211.23" stroke="#646464" stroke-width="1.0" />
<line x1="754.30" y1="216.24" x2="757.30" y2="216.24" stroke="#646464" stroke-width="1.0" />
<line x1="754.30" y1="220.65" x2="757.30" y2="220.65" stroke="#646464" stroke-width="1.0" />
<line x1="754.30" y1="224.60" x2="759.30" y2="224.60" stroke="#646464" stroke-width="1.2" />
<line x1="754.30" y1="250.58" x2="757.30" y2="250.58" stroke="#646464" stroke-width="1.0" />
<line x1="754.30" y1="265.78" x2="757.30" y2="265.78" stroke="#646464" stroke-width="1.0" />
<line x1="754.30" y1="276.56" x2="757.30" y2="276.56" stroke="#646464" stroke-width="1.0" />
<text transform="translate(754.50,302.70) scale(0.95,1)" font-size="15.2" text-anchor="middle" fill="#3a3a3a" stroke="#3a3a3a" stroke-width="0.25">0.0</text>
<text transform="translate(821.16,302.70) scale(0.95,1)" font-size="15.2" text-anchor="middle" fill="#3a3a3a" stroke="#3a3a3a" stroke-width="0.25">0.2</text>
<text transform="translate(887.82,302.70) scale(0.95,1)" font-size="15.2" text-anchor="middle" fill="#3a3a3a" stroke="#3a3a3a" stroke-width="0.25">0.4</text>
<text transform="translate(954.48,302.70) scale(0.95,1)" font-size="15.2" text-anchor="middle" fill="#3a3a3a" stroke="#3a3a3a" stroke-width="0.25">0.6</text>
<text transform="translate(1021.14,302.70) scale(0.95,1)" font-size="15.2" text-anchor="middle" fill="#3a3a3a" stroke="#3a3a3a" stroke-width="0.25">0.8</text>
<text transform="translate(747.30,57.10) scale(0.95,1)" font-size="15.2" text-anchor="end" fill="#3a3a3a" stroke="#3a3a3a" stroke-width="0.25">0.1</text>
<text transform="translate(747.30,143.40) scale(0.95,1)" font-size="15.2" text-anchor="end" fill="#3a3a3a" stroke="#3a3a3a" stroke-width="0.25">1</text>
<text transform="translate(747.30,229.70) scale(0.95,1)" font-size="15.2" text-anchor="end" fill="#3a3a3a" stroke="#3a3a3a" stroke-width="0.25">10</text>
<line x1="877.82" y1="34.00" x2="877.82" y2="284.60" stroke="#a6a6a6" stroke-width="1.4" stroke-dasharray="4,3"/>
<text x="880.40" y="330.20" font-size="17.3" text-anchor="middle" fill="#2e2e2e" stroke="#2e2e2e" stroke-width="0.25" font-weight="normal" >Predicted oxygen vacancy (&#948;<tspan font-size="10.5" dy="5">P</tspan><tspan dy="-5">)</tspan></text>
<g transform="translate(719.3,172.2) rotate(-90)">
<text x="0.00" y="0.00" font-size="17.4" text-anchor="middle" fill="#2e2e2e" stroke="#2e2e2e" stroke-width="0.25" font-weight="normal" >ASPR at 450 <tspan font-size="10.5" dy="-7">o</tspan><tspan dy="7">C (&#937; cm</tspan><tspan font-size="10.5" dy="-7">2</tspan><tspan dy="7">)</tspan></text>
</g>
<path d="M775.1,257.5 L878.5,86.9 L972.3,206.4" fill="none" stroke="#d4557e" stroke-width="1.4"/>
<text x="779.60" y="56.42" font-size="7.0" fill="#303030" stroke="#303030" stroke-width="0.18" text-anchor="start"><tspan dy="0.00">SrCo</tspan><tspan font-size="4.55" dy="2.66">0.8</tspan><tspan dy="-2.66">Ta</tspan><tspan font-size="4.55" dy="2.66">0.175</tspan><tspan dy="-2.66">V</tspan><tspan font-size="4.55" dy="2.66">0.025</tspan><tspan dy="-2.66">O</tspan><tspan font-size="4.55" dy="2.66">3-δ</tspan></text>
<text x="789.50" y="72.92" font-size="7.0" fill="#303030" stroke="#303030" stroke-width="0.18" text-anchor="start"><tspan dy="0.00">SrCo</tspan><tspan font-size="4.55" dy="2.66">0.8</tspan><tspan dy="-2.66">Ta</tspan><tspan font-size="4.55" dy="2.66">0.1</tspan><tspan dy="-2.66">V</tspan><tspan font-size="4.55" dy="2.66">0.1</tspan><tspan dy="-2.66">O</tspan><tspan font-size="4.55" dy="2.66">3-δ</tspan></text>
<text x="767.00" y="102.82" font-size="7.0" fill="#303030" stroke="#303030" stroke-width="0.18" text-anchor="start"><tspan dy="0.00">La</tspan><tspan font-size="4.55" dy="2.66">0.1</tspan><tspan dy="-2.66">Sr</tspan><tspan font-size="4.55" dy="2.66">0.9</tspan><tspan dy="-2.66">Co</tspan><tspan font-size="4.55" dy="2.66">0.8</tspan><tspan dy="-2.66">Ta</tspan><tspan font-size="4.55" dy="2.66">0.15</tspan><tspan dy="-2.66">V</tspan><tspan font-size="4.55" dy="2.66">0.05</tspan><tspan dy="-2.66">O</tspan><tspan font-size="4.55" dy="2.66">3-δ</tspan></text>
<text x="767.00" y="120.72" font-size="7.0" fill="#303030" stroke="#303030" stroke-width="0.18" text-anchor="start"><tspan dy="0.00">SrCo</tspan><tspan font-size="4.55" dy="2.66">0.8</tspan><tspan dy="-2.66">Ta</tspan><tspan font-size="4.55" dy="2.66">0.2</tspan><tspan dy="-2.66">O</tspan><tspan font-size="4.55" dy="2.66">3-δ</tspan></text>
<text x="767.00" y="135.52" font-size="7.0" fill="#303030" stroke="#303030" stroke-width="0.18" text-anchor="start"><tspan dy="0.00">SrCo</tspan><tspan font-size="4.55" dy="2.66">0.8</tspan><tspan dy="-2.66">Nb</tspan><tspan font-size="4.55" dy="2.66">0.2</tspan><tspan dy="-2.66">O</tspan><tspan font-size="4.55" dy="2.66">3-δ</tspan></text>
<text x="757.40" y="149.92" font-size="7.0" fill="#303030" stroke="#303030" stroke-width="0.18" text-anchor="start"><tspan dy="0.00">La</tspan><tspan font-size="4.55" dy="2.66">0.2</tspan><tspan dy="-2.66">Sr</tspan><tspan font-size="4.55" dy="2.66">0.8</tspan><tspan dy="-2.66">Co</tspan><tspan font-size="4.55" dy="2.66">0.8</tspan><tspan dy="-2.66">Ta</tspan><tspan font-size="4.55" dy="2.66">0.15</tspan><tspan dy="-2.66">V</tspan><tspan font-size="4.55" dy="2.66">0.05</tspan><tspan dy="-2.66">O</tspan><tspan font-size="4.55" dy="2.66">3-δ</tspan></text>
<text x="879.00" y="159.52" font-size="7.0" fill="#303030" stroke="#303030" stroke-width="0.18" text-anchor="start"><tspan dy="0.00">SrCo</tspan><tspan font-size="4.55" dy="2.66">0.8</tspan><tspan dy="-2.66">V</tspan><tspan font-size="4.55" dy="2.66">0.2</tspan><tspan dy="-2.66">O</tspan><tspan font-size="4.55" dy="2.66">3-δ</tspan></text>
<text x="757.40" y="189.82" font-size="7.0" fill="#303030" stroke="#303030" stroke-width="0.18" text-anchor="start"><tspan dy="0.00">PrBa</tspan><tspan font-size="4.55" dy="2.66">0.5</tspan><tspan dy="-2.66">Sr</tspan><tspan font-size="4.55" dy="2.66">0.5</tspan><tspan dy="-2.66">Co</tspan><tspan font-size="4.55" dy="2.66">2</tspan><tspan dy="-2.66">O</tspan><tspan font-size="4.55" dy="2.66">5+δ</tspan></text>
<text x="813.00" y="203.72" font-size="7.0" fill="#303030" stroke="#303030" stroke-width="0.18" text-anchor="start"><tspan dy="0.00">(La</tspan><tspan font-size="4.55" dy="2.66">0.1</tspan><tspan dy="-2.66">Sr</tspan><tspan font-size="4.55" dy="2.66">0.9</tspan><tspan dy="-2.66">)</tspan><tspan font-size="4.55" dy="2.66">0.95</tspan><tspan dy="-2.66">Co</tspan><tspan font-size="4.55" dy="2.66">0.8</tspan><tspan dy="-2.66">Ta</tspan><tspan font-size="4.55" dy="2.66">0.15</tspan><tspan dy="-2.66">V</tspan><tspan font-size="4.55" dy="2.66">0.05</tspan><tspan dy="-2.66">O</tspan><tspan font-size="4.55" dy="2.66">3-δ</tspan></text>
<text x="801.70" y="229.82" font-size="7.0" fill="#303030" stroke="#303030" stroke-width="0.18" text-anchor="start"><tspan dy="0.00">La</tspan><tspan font-size="4.55" dy="2.66">0.6</tspan><tspan dy="-2.66">Sr</tspan><tspan font-size="4.55" dy="2.66">0.4</tspan><tspan dy="-2.66">CoO</tspan><tspan font-size="4.55" dy="2.66">3-δ</tspan></text>
<text x="802.90" y="253.52" font-size="7.0" fill="#303030" stroke="#303030" stroke-width="0.18" text-anchor="start"><tspan dy="0.00">La</tspan><tspan font-size="4.55" dy="2.66">0.6</tspan><tspan dy="-2.66">Sr</tspan><tspan font-size="4.55" dy="2.66">0.4</tspan><tspan dy="-2.66">Co</tspan><tspan font-size="4.55" dy="2.66">0.2</tspan><tspan dy="-2.66">Fe</tspan><tspan font-size="4.55" dy="2.66">0.8</tspan><tspan dy="-2.66">O</tspan><tspan font-size="4.55" dy="2.66">3-δ</tspan></text>
<text x="763.00" y="274.52" font-size="7.0" fill="#303030" stroke="#303030" stroke-width="0.18" text-anchor="start"><tspan dy="0.00">La</tspan><tspan font-size="4.55" dy="2.66">0.5</tspan><tspan dy="-2.66">Sr</tspan><tspan font-size="4.55" dy="2.66">0.5</tspan><tspan dy="-2.66">Co</tspan><tspan font-size="4.55" dy="2.66">0.8</tspan><tspan dy="-2.66">Ta</tspan><tspan font-size="4.55" dy="2.66">0.15</tspan><tspan dy="-2.66">V</tspan><tspan font-size="4.55" dy="2.66">0.05</tspan><tspan dy="-2.66">O</tspan><tspan font-size="4.55" dy="2.66">3-δ</tspan></text>
<text x="884.00" y="68.02" font-size="7.0" fill="#303030" stroke="#303030" stroke-width="0.18" text-anchor="start"><tspan dy="0.00">SrCo</tspan><tspan font-size="4.55" dy="2.66">0.8</tspan><tspan dy="-2.66">Nb</tspan><tspan font-size="4.55" dy="2.66">0.1</tspan><tspan dy="-2.66">Ta</tspan><tspan font-size="4.55" dy="2.66">0.1</tspan><tspan dy="-2.66">O</tspan><tspan font-size="4.55" dy="2.66">3-δ</tspan></text>
<text x="900.20" y="89.42" font-size="7.0" fill="#303030" stroke="#303030" stroke-width="0.18" text-anchor="start"><tspan dy="0.00">Sr</tspan><tspan font-size="4.55" dy="2.66">0.95</tspan><tspan dy="-2.66">Co</tspan><tspan font-size="4.55" dy="2.66">0.9</tspan><tspan dy="-2.66">Ag</tspan><tspan font-size="4.55" dy="2.66">0.05</tspan><tspan dy="-2.66">Nb</tspan><tspan font-size="4.55" dy="2.66">0.1</tspan><tspan dy="-2.66">O</tspan><tspan font-size="4.55" dy="2.66">3-δ</tspan></text>
<text x="941.90" y="112.82" font-size="7.0" fill="#303030" stroke="#303030" stroke-width="0.18" text-anchor="start"><tspan dy="0.00">SrCo</tspan><tspan font-size="4.55" dy="2.66">0.8</tspan><tspan dy="-2.66">Sc</tspan><tspan font-size="4.55" dy="2.66">0.175</tspan><tspan dy="-2.66">Ta</tspan><tspan font-size="4.55" dy="2.66">0.025</tspan><tspan dy="-2.66">O</tspan><tspan font-size="4.55" dy="2.66">3-δ</tspan></text>
<text x="931.50" y="140.32" font-size="7.0" fill="#303030" stroke="#303030" stroke-width="0.18" text-anchor="start"><tspan dy="0.00">SrCo</tspan><tspan font-size="4.55" dy="2.66">0.8</tspan><tspan dy="-2.66">Sc</tspan><tspan font-size="4.55" dy="2.66">0.175</tspan><tspan dy="-2.66">Nb</tspan><tspan font-size="4.55" dy="2.66">0.025</tspan><tspan dy="-2.66">O</tspan><tspan font-size="4.55" dy="2.66">3-δ</tspan></text>
<text x="964.50" y="161.22" font-size="7.0" fill="#303030" stroke="#303030" stroke-width="0.18" text-anchor="start"><tspan dy="0.00">SrCo</tspan><tspan font-size="4.55" dy="2.66">0.8</tspan><tspan dy="-2.66">Sc</tspan><tspan font-size="4.55" dy="2.66">0.2</tspan><tspan dy="-2.66">O</tspan><tspan font-size="4.55" dy="2.66">3-δ</tspan></text>
<text x="882.00" y="187.22" font-size="7.0" fill="#303030" stroke="#303030" stroke-width="0.18" text-anchor="start"><tspan dy="0.00">Ba</tspan><tspan font-size="4.55" dy="2.66">0.5</tspan><tspan dy="-2.66">Sr</tspan><tspan font-size="4.55" dy="2.66">0.5</tspan><tspan dy="-2.66">Co</tspan><tspan font-size="4.55" dy="2.66">0.8</tspan><tspan dy="-2.66">Fe</tspan><tspan font-size="4.55" dy="2.66">0.2</tspan><tspan dy="-2.66">O</tspan><tspan font-size="4.55" dy="2.66">3-δ</tspan></text>
<text x="948.00" y="230.72" font-size="7.0" fill="#303030" stroke="#303030" stroke-width="0.18" text-anchor="start"><tspan dy="0.00">Ba</tspan><tspan font-size="4.55" dy="2.66">2</tspan><tspan dy="-2.66">Bi</tspan><tspan font-size="4.55" dy="2.66">0.1</tspan><tspan dy="-2.66">Sc</tspan><tspan font-size="4.55" dy="2.66">0.2</tspan><tspan dy="-2.66">Co</tspan><tspan font-size="4.55" dy="2.66">1.7</tspan><tspan dy="-2.66">O</tspan><tspan font-size="4.55" dy="2.66">6-δ</tspan></text>
<path d="M851.00,51.70 L863.90,51.70 L863.90,84.30 L873.00,84.30" fill="none" stroke="#555" stroke-width="0.9"/>
<path d="M873.00,84.30 L868.00,86.30 L868.00,82.30 Z" fill="#111"/>
<path d="M851.00,68.50 L856.70,68.50 L856.70,97.00 L873.00,97.00" fill="none" stroke="#555" stroke-width="0.9"/>
<path d="M873.00,97.00 L868.00,99.00 L868.00,95.00 Z" fill="#111"/>
<path d="M833.00,104.00 L833.00,125.60 L849.00,125.60" fill="none" stroke="#555" stroke-width="0.9"/>
<path d="M849.00,125.60 L844.00,127.60 L844.00,123.60 Z" fill="#111"/>
<path d="M816.00,117.50 L826.00,117.50 L826.00,135.50 L849.00,135.50" fill="none" stroke="#555" stroke-width="0.9"/>
<path d="M849.00,135.50 L844.00,137.50 L844.00,133.50 Z" fill="#111"/>
<path d="M816.00,132.00 L822.00,132.00 L822.00,140.40 L851.00,140.40" fill="none" stroke="#555" stroke-width="0.9"/>
<path d="M851.00,140.40 L846.00,142.40 L846.00,138.40 Z" fill="#111"/>
<path d="M804.30,151.70 L804.30,160.90 L832.00,160.90" fill="none" stroke="#555" stroke-width="0.9"/>
<path d="M832.00,160.90 L827.00,162.90 L827.00,158.90 Z" fill="#111"/>
<path d="M878.00,155.70 L857.50,155.70" fill="none" stroke="#555" stroke-width="0.9"/>
<path d="M857.50,155.70 L862.50,153.70 L862.50,157.70 Z" fill="#111"/>
<path d="M786.90,190.00 L786.90,205.90 L794.00,205.90" fill="none" stroke="#555" stroke-width="0.9"/>
<path d="M794.00,205.90 L789.00,207.90 L789.00,203.90 Z" fill="#111"/>
<path d="M854.70,197.00 L854.70,183.90 L840.50,183.90" fill="none" stroke="#555" stroke-width="0.9"/>
<path d="M840.50,183.90 L845.50,181.90 L845.50,185.90 Z" fill="#111"/>
<path d="M799.00,226.40 L788.00,226.40" fill="none" stroke="#555" stroke-width="0.9"/>
<path d="M788.00,226.40 L793.00,224.40 L793.00,228.40 Z" fill="#111"/>
<path d="M801.00,250.50 L784.00,250.00" fill="none" stroke="#555" stroke-width="0.9"/>
<path d="M784.00,250.00 L789.06,248.15 L788.94,252.15 Z" fill="#111"/>
<path d="M802.00,268.00 L802.00,260.70 L786.00,260.70" fill="none" stroke="#555" stroke-width="0.9"/>
<path d="M786.00,260.70 L791.00,258.70 L791.00,262.70 Z" fill="#111"/>
<path d="M892.90,72.00 L892.90,124.20 L884.00,124.20" fill="none" stroke="#555" stroke-width="0.9"/>
<path d="M884.00,124.20 L889.00,122.20 L889.00,126.20 Z" fill="#111"/>
<path d="M906.30,94.00 L906.30,108.00" fill="none" stroke="#555" stroke-width="0.9"/>
<path d="M906.30,108.00 L904.30,103.00 L908.30,103.00 Z" fill="#111"/>
<path d="M940.50,110.30 L927.00,110.30" fill="none" stroke="#555" stroke-width="0.9"/>
<path d="M927.00,110.30 L932.00,108.30 L932.00,112.30 Z" fill="#111"/>
<path d="M930.50,137.00 L916.00,137.00" fill="none" stroke="#555" stroke-width="0.9"/>
<path d="M916.00,137.00 L921.00,135.00 L921.00,139.00 Z" fill="#111"/>
<path d="M963.50,157.40 L948.50,157.40" fill="none" stroke="#555" stroke-width="0.9"/>
<path d="M948.50,157.40 L953.50,155.40 L953.50,159.40 Z" fill="#111"/>
<path d="M916.30,178.00 L916.30,167.40 L904.00,167.40" fill="none" stroke="#555" stroke-width="0.9"/>
<path d="M904.00,167.40 L909.00,165.40 L909.00,169.40 Z" fill="#111"/>
<path d="M983.60,221.00 L983.60,208.50 L976.50,208.50" fill="none" stroke="#555" stroke-width="0.9"/>
<path d="M976.50,208.50 L981.50,206.50 L981.50,210.50 Z" fill="#111"/>
<line x1="878.50" y1="67.00" x2="878.50" y2="88.00" stroke="#2a2a2a" stroke-width="1.3" />
<line x1="876.10" y1="67.00" x2="880.90" y2="67.00" stroke="#2a2a2a" stroke-width="1.3" />
<line x1="876.10" y1="88.00" x2="880.90" y2="88.00" stroke="#2a2a2a" stroke-width="1.3" />
<line x1="878.50" y1="93.00" x2="878.50" y2="107.70" stroke="#2a2a2a" stroke-width="1.3" />
<line x1="876.10" y1="93.00" x2="880.90" y2="93.00" stroke="#2a2a2a" stroke-width="1.3" />
<line x1="876.10" y1="107.70" x2="880.90" y2="107.70" stroke="#2a2a2a" stroke-width="1.3" />
<line x1="878.50" y1="117.00" x2="878.50" y2="131.00" stroke="#2a2a2a" stroke-width="1.3" />
<line x1="876.10" y1="117.00" x2="880.90" y2="117.00" stroke="#2a2a2a" stroke-width="1.3" />
<line x1="876.10" y1="131.00" x2="880.90" y2="131.00" stroke="#2a2a2a" stroke-width="1.3" />
<line x1="854.70" y1="117.50" x2="854.70" y2="131.00" stroke="#2a2a2a" stroke-width="1.3" />
<line x1="852.30" y1="117.50" x2="857.10" y2="117.50" stroke="#2a2a2a" stroke-width="1.3" />
<line x1="852.30" y1="131.00" x2="857.10" y2="131.00" stroke="#2a2a2a" stroke-width="1.3" />
<line x1="852.00" y1="148.00" x2="852.00" y2="162.00" stroke="#2a2a2a" stroke-width="1.3" />
<line x1="849.60" y1="148.00" x2="854.40" y2="148.00" stroke="#2a2a2a" stroke-width="1.3" />
<line x1="849.60" y1="162.00" x2="854.40" y2="162.00" stroke="#2a2a2a" stroke-width="1.3" />
<line x1="835.20" y1="170.80" x2="835.20" y2="192.90" stroke="#2a2a2a" stroke-width="1.3" />
<line x1="832.80" y1="170.80" x2="837.60" y2="170.80" stroke="#2a2a2a" stroke-width="1.3" />
<line x1="832.80" y1="192.90" x2="837.60" y2="192.90" stroke="#2a2a2a" stroke-width="1.3" />
<line x1="799.00" y1="200.00" x2="799.00" y2="212.00" stroke="#2a2a2a" stroke-width="1.3" />
<line x1="796.60" y1="200.00" x2="801.40" y2="200.00" stroke="#2a2a2a" stroke-width="1.3" />
<line x1="796.60" y1="212.00" x2="801.40" y2="212.00" stroke="#2a2a2a" stroke-width="1.3" />
<line x1="782.60" y1="206.40" x2="782.60" y2="240.30" stroke="#2a2a2a" stroke-width="1.3" />
<line x1="780.20" y1="206.40" x2="785.00" y2="206.40" stroke="#2a2a2a" stroke-width="1.3" />
<line x1="780.20" y1="240.30" x2="785.00" y2="240.30" stroke="#2a2a2a" stroke-width="1.3" />
<line x1="779.00" y1="243.00" x2="779.00" y2="255.00" stroke="#2a2a2a" stroke-width="1.3" />
<line x1="776.60" y1="243.00" x2="781.40" y2="243.00" stroke="#2a2a2a" stroke-width="1.3" />
<line x1="776.60" y1="255.00" x2="781.40" y2="255.00" stroke="#2a2a2a" stroke-width="1.3" />
<line x1="921.90" y1="99.00" x2="921.90" y2="118.20" stroke="#2a2a2a" stroke-width="1.3" />
<line x1="919.50" y1="99.00" x2="924.30" y2="99.00" stroke="#2a2a2a" stroke-width="1.3" />
<line x1="919.50" y1="118.20" x2="924.30" y2="118.20" stroke="#2a2a2a" stroke-width="1.3" />
<line x1="911.10" y1="132.00" x2="911.10" y2="144.80" stroke="#2a2a2a" stroke-width="1.3" />
<line x1="908.70" y1="132.00" x2="913.50" y2="132.00" stroke="#2a2a2a" stroke-width="1.3" />
<line x1="908.70" y1="144.80" x2="913.50" y2="144.80" stroke="#2a2a2a" stroke-width="1.3" />
<line x1="943.10" y1="146.50" x2="943.10" y2="166.50" stroke="#2a2a2a" stroke-width="1.3" />
<line x1="940.70" y1="146.50" x2="945.50" y2="146.50" stroke="#2a2a2a" stroke-width="1.3" />
<line x1="940.70" y1="166.50" x2="945.50" y2="166.50" stroke="#2a2a2a" stroke-width="1.3" />
<circle cx="878.5" cy="84.3" r="4.1" fill="url(#csph)" stroke="#1c2640" stroke-width="1.5"/>
<circle cx="878.5" cy="97.0" r="4.1" fill="url(#csph)" stroke="#1c2640" stroke-width="1.5"/>
<circle cx="878.5" cy="124.2" r="4.1" fill="url(#csph)" stroke="#1c2640" stroke-width="1.5"/>
<circle cx="854.7" cy="126.0" r="4.1" fill="url(#csph)" stroke="#1c2640" stroke-width="1.5"/>
<circle cx="853.8" cy="135.2" r="4.1" fill="url(#csph)" stroke="#1c2640" stroke-width="1.5"/>
<circle cx="856.4" cy="140.4" r="4.1" fill="url(#csph)" stroke="#1c2640" stroke-width="1.5"/>
<circle cx="852.0" cy="155.7" r="4.1" fill="url(#csph)" stroke="#1c2640" stroke-width="1.5"/>
<circle cx="837.0" cy="160.9" r="4.1" fill="url(#csph)" stroke="#1c2640" stroke-width="1.5"/>
<circle cx="835.2" cy="183.9" r="4.1" fill="url(#csph)" stroke="#1c2640" stroke-width="1.5"/>
<circle cx="799.0" cy="205.9" r="4.1" fill="url(#csph)" stroke="#1c2640" stroke-width="1.5"/>
<circle cx="782.6" cy="226.4" r="4.1" fill="url(#csph)" stroke="#1c2640" stroke-width="1.5"/>
<circle cx="779.0" cy="249.0" r="4.1" fill="url(#csph)" stroke="#1c2640" stroke-width="1.5"/>
<circle cx="780.9" cy="260.7" r="4.1" fill="url(#csph)" stroke="#1c2640" stroke-width="1.5"/>
<circle cx="906.3" cy="113.0" r="4.1" fill="url(#csph)" stroke="#1c2640" stroke-width="1.5"/>
<circle cx="921.9" cy="109.5" r="4.1" fill="url(#csph)" stroke="#1c2640" stroke-width="1.5"/>
<circle cx="911.1" cy="137.0" r="4.1" fill="url(#csph)" stroke="#1c2640" stroke-width="1.5"/>
<circle cx="943.1" cy="157.4" r="4.1" fill="url(#csph)" stroke="#1c2640" stroke-width="1.5"/>
<circle cx="899.0" cy="167.4" r="4.1" fill="url(#csph)" stroke="#1c2640" stroke-width="1.5"/>
<circle cx="971.4" cy="209.0" r="4.1" fill="url(#csph)" stroke="#1c2640" stroke-width="1.5"/>
<rect x="754.3" y="33" width="267.0" height="252.60000000000002" fill="none" stroke="#646464" stroke-width="1.5"/>
<line x1="98.30" y1="621.90" x2="98.30" y2="619.40" stroke="#646464" stroke-width="1.2" />
<line x1="136.10" y1="621.90" x2="136.10" y2="617.40" stroke="#646464" stroke-width="1.2" />
<line x1="173.90" y1="621.90" x2="173.90" y2="619.40" stroke="#646464" stroke-width="1.2" />
<line x1="211.70" y1="621.90" x2="211.70" y2="617.40" stroke="#646464" stroke-width="1.2" />
<line x1="249.50" y1="621.90" x2="249.50" y2="619.40" stroke="#646464" stroke-width="1.2" />
<line x1="287.30" y1="621.90" x2="287.30" y2="617.40" stroke="#646464" stroke-width="1.2" />
<line x1="325.10" y1="621.90" x2="325.10" y2="619.40" stroke="#646464" stroke-width="1.2" />
<line x1="60.50" y1="608.40" x2="65.00" y2="608.40" stroke="#646464" stroke-width="1.2" />
<line x1="60.50" y1="580.45" x2="63.00" y2="580.45" stroke="#646464" stroke-width="1.2" />
<line x1="60.50" y1="552.50" x2="65.00" y2="552.50" stroke="#646464" stroke-width="1.2" />
<line x1="60.50" y1="524.55" x2="63.00" y2="524.55" stroke="#646464" stroke-width="1.2" />
<line x1="60.50" y1="496.60" x2="65.00" y2="496.60" stroke="#646464" stroke-width="1.2" />
<line x1="60.50" y1="468.65" x2="63.00" y2="468.65" stroke="#646464" stroke-width="1.2" />
<line x1="60.50" y1="440.70" x2="65.00" y2="440.70" stroke="#646464" stroke-width="1.2" />
<line x1="60.50" y1="412.75" x2="63.00" y2="412.75" stroke="#646464" stroke-width="1.2" />
<line x1="60.50" y1="384.80" x2="65.00" y2="384.80" stroke="#646464" stroke-width="1.2" />
<text transform="translate(60.50,639.60) scale(0.95,1)" font-size="15.2" text-anchor="middle" fill="#3a3a3a" stroke="#3a3a3a" stroke-width="0.25">400</text>
<text transform="translate(136.10,639.60) scale(0.95,1)" font-size="15.2" text-anchor="middle" fill="#3a3a3a" stroke="#3a3a3a" stroke-width="0.25">500</text>
<text transform="translate(211.70,639.60) scale(0.95,1)" font-size="15.2" text-anchor="middle" fill="#3a3a3a" stroke="#3a3a3a" stroke-width="0.25">600</text>
<text transform="translate(287.30,639.60) scale(0.95,1)" font-size="15.2" text-anchor="middle" fill="#3a3a3a" stroke="#3a3a3a" stroke-width="0.25">700</text>
<text transform="translate(54.50,613.40) scale(0.95,1)" font-size="15.2" text-anchor="end" fill="#3a3a3a" stroke="#3a3a3a" stroke-width="0.25">0.36</text>
<text transform="translate(54.50,557.50) scale(0.95,1)" font-size="15.2" text-anchor="end" fill="#3a3a3a" stroke="#3a3a3a" stroke-width="0.25">0.40</text>
<text transform="translate(54.50,501.60) scale(0.95,1)" font-size="15.2" text-anchor="end" fill="#3a3a3a" stroke="#3a3a3a" stroke-width="0.25">0.44</text>
<text transform="translate(54.50,445.70) scale(0.95,1)" font-size="15.2" text-anchor="end" fill="#3a3a3a" stroke="#3a3a3a" stroke-width="0.25">0.48</text>
<text transform="translate(54.50,389.80) scale(0.95,1)" font-size="15.2" text-anchor="end" fill="#3a3a3a" stroke="#3a3a3a" stroke-width="0.25">0.52</text>
<line x1="98.10" y1="605.00" x2="289.20" y2="410.30" stroke="#b4b4b4" stroke-width="1.4" stroke-dasharray="5,4"/>
<circle cx="98.1" cy="593.4" r="4.3" fill="#8e8e8e" stroke="#3a3a3a" stroke-width="1.3"/>
<circle cx="136.0" cy="569.7" r="4.3" fill="#8e8e8e" stroke="#3a3a3a" stroke-width="1.3"/>
<circle cx="174.4" cy="537.1" r="4.3" fill="#8e8e8e" stroke="#3a3a3a" stroke-width="1.3"/>
<circle cx="212.7" cy="497.9" r="4.3" fill="#8e8e8e" stroke="#3a3a3a" stroke-width="1.3"/>
<circle cx="251.0" cy="454.3" r="4.3" fill="#8e8e8e" stroke="#3a3a3a" stroke-width="1.3"/>
<circle cx="289.2" cy="401.2" r="4.3" fill="#8e8e8e" stroke="#3a3a3a" stroke-width="1.3"/>
<text x="194.60" y="670.30" font-size="17.4" text-anchor="middle" fill="#2e2e2e" stroke="#2e2e2e" stroke-width="0.25" font-weight="normal" >Temperature (<tspan font-size="10.5" dy="-7">o</tspan><tspan dy="7">C)</tspan></text>
<g transform="translate(16.5,509) rotate(-90)">
<text x="0.00" y="0.00" font-size="17.2" text-anchor="middle" fill="#2e2e2e" stroke="#2e2e2e" stroke-width="0.25" font-weight="normal" >Optimal oxygen vacancy (&#948;<tspan font-size="9.5" dy="4">opt</tspan><tspan dy="-4">)</tspan></text>
</g>
<rect x="60.5" y="370.3" width="267.0" height="251.59999999999997" fill="none" stroke="#646464" stroke-width="1.5"/>
<line x1="447.90" y1="621.90" x2="447.90" y2="619.40" stroke="#646464" stroke-width="1.2" />
<line x1="486.10" y1="621.90" x2="486.10" y2="617.40" stroke="#646464" stroke-width="1.2" />
<line x1="524.30" y1="621.90" x2="524.30" y2="619.40" stroke="#646464" stroke-width="1.2" />
<line x1="562.50" y1="621.90" x2="562.50" y2="617.40" stroke="#646464" stroke-width="1.2" />
<line x1="600.70" y1="621.90" x2="600.70" y2="619.40" stroke="#646464" stroke-width="1.2" />
<line x1="638.90" y1="621.90" x2="638.90" y2="617.40" stroke="#646464" stroke-width="1.2" />
<line x1="409.70" y1="595.20" x2="412.20" y2="595.20" stroke="#646464" stroke-width="1.2" />
<line x1="409.70" y1="568.90" x2="414.20" y2="568.90" stroke="#646464" stroke-width="1.2" />
<line x1="409.70" y1="542.60" x2="412.20" y2="542.60" stroke="#646464" stroke-width="1.2" />
<line x1="409.70" y1="516.30" x2="414.20" y2="516.30" stroke="#646464" stroke-width="1.2" />
<line x1="409.70" y1="490.00" x2="412.20" y2="490.00" stroke="#646464" stroke-width="1.2" />
<line x1="409.70" y1="463.70" x2="414.20" y2="463.70" stroke="#646464" stroke-width="1.2" />
<line x1="409.70" y1="437.40" x2="412.20" y2="437.40" stroke="#646464" stroke-width="1.2" />
<line x1="409.70" y1="411.10" x2="414.20" y2="411.10" stroke="#646464" stroke-width="1.2" />
<line x1="409.70" y1="384.80" x2="412.20" y2="384.80" stroke="#646464" stroke-width="1.2" />
<text transform="translate(409.70,639.60) scale(0.95,1)" font-size="15.2" text-anchor="middle" fill="#3a3a3a" stroke="#3a3a3a" stroke-width="0.25">0.0</text>
<text transform="translate(486.10,639.60) scale(0.95,1)" font-size="15.2" text-anchor="middle" fill="#3a3a3a" stroke="#3a3a3a" stroke-width="0.25">0.2</text>
<text transform="translate(562.50,639.60) scale(0.95,1)" font-size="15.2" text-anchor="middle" fill="#3a3a3a" stroke="#3a3a3a" stroke-width="0.25">0.4</text>
<text transform="translate(638.90,639.60) scale(0.95,1)" font-size="15.2" text-anchor="middle" fill="#3a3a3a" stroke="#3a3a3a" stroke-width="0.25">0.6</text>
<text transform="translate(403.70,573.90) scale(0.95,1)" font-size="15.2" text-anchor="end" fill="#3a3a3a" stroke="#3a3a3a" stroke-width="0.25">1.0</text>
<text transform="translate(403.70,521.30) scale(0.95,1)" font-size="15.2" text-anchor="end" fill="#3a3a3a" stroke="#3a3a3a" stroke-width="0.25">1.5</text>
<text transform="translate(403.70,468.70) scale(0.95,1)" font-size="15.2" text-anchor="end" fill="#3a3a3a" stroke="#3a3a3a" stroke-width="0.25">2.0</text>
<text transform="translate(403.70,416.10) scale(0.95,1)" font-size="15.2" text-anchor="end" fill="#3a3a3a" stroke="#3a3a3a" stroke-width="0.25">2.5</text>
<text transform="translate(405.70,627.00) scale(0.95,1)" font-size="15.2" text-anchor="end" fill="#3a3a3a" stroke="#3a3a3a" stroke-width="0.25">0.5</text>
<line x1="431.90" y1="417.40" x2="657.30" y2="597.60" stroke="#b4b4b4" stroke-width="1.4" stroke-dasharray="5,4"/>
<rect x="435.5" y="435.3" width="8.6" height="8.6" fill="#7aa6c8" stroke="#2a2a2a" stroke-width="1.3"/>
<rect x="458.2" y="394.7" width="8.6" height="8.6" fill="#7aa6c8" stroke="#2a2a2a" stroke-width="1.3"/>
<rect x="511.90000000000003" y="486.4" width="8.6" height="8.6" fill="#7aa6c8" stroke="#2a2a2a" stroke-width="1.3"/>
<rect x="517.7" y="495.59999999999997" width="8.6" height="8.6" fill="#7aa6c8" stroke="#2a2a2a" stroke-width="1.3"/>
<rect x="516.2" y="503.2" width="8.6" height="8.6" fill="#7aa6c8" stroke="#2a2a2a" stroke-width="1.3"/>
<rect x="547.6" y="503.2" width="8.6" height="8.6" fill="#7aa6c8" stroke="#2a2a2a" stroke-width="1.3"/>
<rect x="559.8000000000001" y="511.40000000000003" width="8.6" height="8.6" fill="#7aa6c8" stroke="#2a2a2a" stroke-width="1.3"/>
<rect x="555.9000000000001" y="525.2" width="8.6" height="8.6" fill="#7aa6c8" stroke="#2a2a2a" stroke-width="1.3"/>
<rect x="591.3000000000001" y="542.9000000000001" width="8.6" height="8.6" fill="#7aa6c8" stroke="#2a2a2a" stroke-width="1.3"/>
<rect x="627.0" y="581.1" width="8.6" height="8.6" fill="#7aa6c8" stroke="#2a2a2a" stroke-width="1.3"/>
<rect x="646.9000000000001" y="573.4000000000001" width="8.6" height="8.6" fill="#7aa6c8" stroke="#2a2a2a" stroke-width="1.3"/>
<text x="543.30" y="670.20" font-size="17.2" text-anchor="middle" fill="#2e2e2e" stroke="#2e2e2e" stroke-width="0.25" font-weight="normal" >Content of oxygen vacancy (&#948;<tspan font-size="10.5" dy="5">M</tspan><tspan dy="-5">)</tspan></text>
<g transform="translate(371.5,521) rotate(-90)">
<text x="0.00" y="0.00" font-size="16.2" text-anchor="middle" fill="#2e2e2e" stroke="#2e2e2e" stroke-width="0.25" font-weight="normal" >Oxygen-vacancy formation energy (eV)</text>
</g>
<rect x="409.7" y="370.3" width="266.3" height="251.59999999999997" fill="none" stroke="#646464" stroke-width="1.5"/>
<line x1="792.40" y1="621.90" x2="792.40" y2="619.40" stroke="#646464" stroke-width="1.2" />
<line x1="830.60" y1="621.90" x2="830.60" y2="617.40" stroke="#646464" stroke-width="1.2" />
<line x1="868.80" y1="621.90" x2="868.80" y2="619.40" stroke="#646464" stroke-width="1.2" />
<line x1="907.00" y1="621.90" x2="907.00" y2="617.40" stroke="#646464" stroke-width="1.2" />
<line x1="945.20" y1="621.90" x2="945.20" y2="619.40" stroke="#646464" stroke-width="1.2" />
<line x1="983.40" y1="621.90" x2="983.40" y2="617.40" stroke="#646464" stroke-width="1.2" />
<line x1="754.20" y1="605.30" x2="758.70" y2="605.30" stroke="#646464" stroke-width="1.2" />
<line x1="754.20" y1="571.70" x2="756.70" y2="571.70" stroke="#646464" stroke-width="1.2" />
<line x1="754.20" y1="538.10" x2="758.70" y2="538.10" stroke="#646464" stroke-width="1.2" />
<line x1="754.20" y1="504.50" x2="756.70" y2="504.50" stroke="#646464" stroke-width="1.2" />
<line x1="754.20" y1="470.90" x2="758.70" y2="470.90" stroke="#646464" stroke-width="1.2" />
<line x1="754.20" y1="437.30" x2="756.70" y2="437.30" stroke="#646464" stroke-width="1.2" />
<line x1="754.20" y1="403.70" x2="758.70" y2="403.70" stroke="#646464" stroke-width="1.2" />
<text transform="translate(754.20,639.60) scale(0.95,1)" font-size="15.2" text-anchor="middle" fill="#3a3a3a" stroke="#3a3a3a" stroke-width="0.25">0.0</text>
<text transform="translate(830.60,639.60) scale(0.95,1)" font-size="15.2" text-anchor="middle" fill="#3a3a3a" stroke="#3a3a3a" stroke-width="0.25">0.2</text>
<text transform="translate(907.00,639.60) scale(0.95,1)" font-size="15.2" text-anchor="middle" fill="#3a3a3a" stroke="#3a3a3a" stroke-width="0.25">0.4</text>
<text transform="translate(983.40,639.60) scale(0.95,1)" font-size="15.2" text-anchor="middle" fill="#3a3a3a" stroke="#3a3a3a" stroke-width="0.25">0.6</text>
<text transform="translate(748.20,610.30) scale(0.95,1)" font-size="15.2" text-anchor="end" fill="#3a3a3a" stroke="#3a3a3a" stroke-width="0.25">0.2</text>
<text transform="translate(748.20,543.10) scale(0.95,1)" font-size="15.2" text-anchor="end" fill="#3a3a3a" stroke="#3a3a3a" stroke-width="0.25">0.4</text>
<text transform="translate(748.20,475.90) scale(0.95,1)" font-size="15.2" text-anchor="end" fill="#3a3a3a" stroke="#3a3a3a" stroke-width="0.25">0.6</text>
<text transform="translate(748.20,408.70) scale(0.95,1)" font-size="15.2" text-anchor="end" fill="#3a3a3a" stroke="#3a3a3a" stroke-width="0.25">0.8</text>
<line x1="774.00" y1="558.00" x2="1002.60" y2="414.40" stroke="#b4b4b4" stroke-width="1.4" stroke-dasharray="5,4"/>
<rect x="780.4000000000001" y="564.3000000000001" width="8.6" height="8.6" fill="#c96a6c" stroke="#2a2a2a" stroke-width="1.3"/>
<rect x="802.7" y="524.0" width="8.6" height="8.6" fill="#c96a6c" stroke="#2a2a2a" stroke-width="1.3"/>
<rect x="856.2" y="527.0" width="8.6" height="8.6" fill="#c96a6c" stroke="#2a2a2a" stroke-width="1.3"/>
<rect x="862.3000000000001" y="503.2" width="8.6" height="8.6" fill="#c96a6c" stroke="#2a2a2a" stroke-width="1.3"/>
<rect x="863.0" y="494.0" width="8.6" height="8.6" fill="#c96a6c" stroke="#2a2a2a" stroke-width="1.3"/>
<rect x="892.7" y="469.09999999999997" width="8.6" height="8.6" fill="#c96a6c" stroke="#2a2a2a" stroke-width="1.3"/>
<rect x="900.5" y="439.59999999999997" width="8.6" height="8.6" fill="#c96a6c" stroke="#2a2a2a" stroke-width="1.3"/>
<rect x="905.1" y="442.5" width="8.6" height="8.6" fill="#c96a6c" stroke="#2a2a2a" stroke-width="1.3"/>
<rect x="935.5" y="430.4" width="8.6" height="8.6" fill="#c96a6c" stroke="#2a2a2a" stroke-width="1.3"/>
<rect x="972.2" y="456.4" width="8.6" height="8.6" fill="#c96a6c" stroke="#2a2a2a" stroke-width="1.3"/>
<rect x="991.9000000000001" y="426.59999999999997" width="8.6" height="8.6" fill="#c96a6c" stroke="#2a2a2a" stroke-width="1.3"/>
<text x="888.20" y="670.20" font-size="17.2" text-anchor="middle" fill="#2e2e2e" stroke="#2e2e2e" stroke-width="0.25" font-weight="normal" >Content of oxygen vacancy (&#948;<tspan font-size="10.5" dy="5">M</tspan><tspan dy="-5">)</tspan></text>
<g transform="translate(716.3,505.9) rotate(-90)">
<text x="0.00" y="0.00" font-size="16.2" text-anchor="middle" fill="#2e2e2e" stroke="#2e2e2e" stroke-width="0.25" font-weight="normal" >Oxygen-ion migration barrier (eV)</text>
</g>
<rect x="754.2" y="370.3" width="267.19999999999993" height="251.59999999999997" fill="none" stroke="#646464" stroke-width="1.5"/>
<rect x="570.2" y="390.5" width="64.89999999999998" height="65.80000000000001" stroke="#777" stroke-width="0.9" stroke-dasharray="2.6,2" fill="none"/>
<line x1="554" y1="402.5" x2="570.2" y2="390.5" stroke="#777" stroke-width="0.9" stroke-dasharray="2.6,2" fill="none"/>
<line x1="618.9" y1="402.5" x2="635.1" y2="390.5" stroke="#777" stroke-width="0.9" stroke-dasharray="2.6,2" fill="none"/>
<line x1="554" y1="468.0" x2="570.2" y2="456.3" stroke="#777" stroke-width="0.9" stroke-dasharray="2.6,2" fill="none"/>
<line x1="618.9" y1="468.0" x2="635.1" y2="456.3" stroke="#777" stroke-width="0.9" stroke-dasharray="2.6,2" fill="none"/>
<circle cx="570.2" cy="390.5" r="5.6" fill="url(#gsph)" stroke="#888" stroke-width="0.8"/>
<circle cx="635.1" cy="390.5" r="5.6" fill="url(#gsph)" stroke="#888" stroke-width="0.8"/>
<circle cx="570.2" cy="456.3" r="5.6" fill="url(#gsph)" stroke="#888" stroke-width="0.8"/>
<circle cx="635.1" cy="456.3" r="5.6" fill="url(#gsph)" stroke="#888" stroke-width="0.8"/>
<rect x="554" y="402.5" width="64.89999999999998" height="65.5" stroke="#777" stroke-width="0.9" stroke-dasharray="2.6,2" fill="none"/>
<path d="M594.5,397.9 L562.8,429.9 L595.2,463.9 L625.8,431.5 Z" fill="#6464b4" fill-opacity="0.72" stroke="#7070c0" stroke-width="0.6"/>
<path d="M594.5,397.9 L587.6,436.1 L625.8,431.5 Z" fill="#8a8ad8" fill-opacity="0.35"/>
<path d="M562.8,429.9 L587.6,436.1 L595.2,463.9 Z" fill="#5050a8" fill-opacity="0.3"/>
<line x1="595.7" y1="430.3" x2="602.7" y2="424.5" stroke="#4a4ab0" stroke-width="1.0"/>
<line x1="595.7" y1="430.3" x2="625.8" y2="431.5" stroke="#4a4ab0" stroke-width="1.0"/>
<line x1="595.7" y1="430.3" x2="594.5" y2="397.9" stroke="#2c3aa0" stroke-width="2.6"/>
<line x1="595.1" y1="414.1" x2="594.5" y2="397.9" stroke="#c0407a" stroke-width="2.4"/>
<line x1="595.7" y1="430.3" x2="595.2" y2="463.9" stroke="#2c3aa0" stroke-width="2.6"/>
<line x1="595.45" y1="447.1" x2="595.2" y2="463.9" stroke="#c0407a" stroke-width="2.4"/>
<line x1="595.7" y1="430.3" x2="562.8" y2="429.9" stroke="#2c3aa0" stroke-width="2.6"/>
<line x1="579.25" y1="430.1" x2="562.8" y2="429.9" stroke="#c0407a" stroke-width="2.4"/>
<line x1="595.7" y1="430.3" x2="587.6" y2="436.1" stroke="#2c3aa0" stroke-width="2.6"/>
<line x1="591.6500000000001" y1="433.20000000000005" x2="587.6" y2="436.1" stroke="#c0407a" stroke-width="2.4"/>
<line x1="595.7" y1="430.3" x2="602.7" y2="424.5" stroke="#2c3aa0" stroke-width="2.4"/>
<circle cx="602.7" cy="424.5" r="3.42" fill="url(#psph)" stroke="#902050" stroke-width="0.6"/>
<circle cx="595.7" cy="430.3" r="7.0" fill="url(#bsph)"/>
<circle cx="594.5" cy="397.9" r="3.8" fill="url(#psph)" stroke="#902050" stroke-width="0.6"/>
<circle cx="595.2" cy="463.9" r="3.8" fill="url(#psph)" stroke="#902050" stroke-width="0.6"/>
<circle cx="562.8" cy="429.9" r="3.8" fill="url(#psph)" stroke="#902050" stroke-width="0.6"/>
<circle cx="587.6" cy="436.1" r="3.8" fill="url(#psph)" stroke="#902050" stroke-width="0.6"/>
<circle cx="625.8" cy="431.5" r="4.7" fill="none" stroke="#222" stroke-width="1.6" stroke-dasharray="1.1,0.9"/>
<circle cx="554" cy="402.5" r="5.6" fill="url(#gsph)" stroke="#888" stroke-width="0.8"/>
<circle cx="618.9" cy="402.5" r="5.6" fill="url(#gsph)" stroke="#888" stroke-width="0.8"/>
<circle cx="554" cy="468.0" r="5.6" fill="url(#gsph)" stroke="#888" stroke-width="0.8"/>
<circle cx="618.9" cy="468.0" r="5.6" fill="url(#gsph)" stroke="#888" stroke-width="0.8"/>
<path d="M630.50,432.20 L650.50,432.20" fill="none" stroke="#333" stroke-width="0.9"/>
<path d="M650.50,432.20 L645.50,434.20 L645.50,430.20 Z" fill="#111"/>
<circle cx="656.4" cy="432.2" r="3.8" fill="url(#psph)" stroke="#902050" stroke-width="0.6"/>
<rect x="922.4" y="513.3" width="65.80000000000007" height="66.70000000000005" stroke="#777" stroke-width="0.9" stroke-dasharray="2.6,2" fill="none"/>
<line x1="906.2" y1="524.4" x2="922.4" y2="513.3" stroke="#777" stroke-width="0.9" stroke-dasharray="2.6,2" fill="none"/>
<line x1="972" y1="524.4" x2="988.2" y2="513.3" stroke="#777" stroke-width="0.9" stroke-dasharray="2.6,2" fill="none"/>
<line x1="906.2" y1="592.0" x2="922.4" y2="580.0" stroke="#777" stroke-width="0.9" stroke-dasharray="2.6,2" fill="none"/>
<line x1="972" y1="592.0" x2="988.2" y2="580.0" stroke="#777" stroke-width="0.9" stroke-dasharray="2.6,2" fill="none"/>
<circle cx="922.4" cy="513.3" r="6.0" fill="url(#gsph)" stroke="#888" stroke-width="0.8"/>
<circle cx="988.2" cy="513.3" r="6.0" fill="url(#gsph)" stroke="#888" stroke-width="0.8"/>
<circle cx="922.4" cy="580.0" r="6.0" fill="url(#gsph)" stroke="#888" stroke-width="0.8"/>
<circle cx="988.2" cy="580.0" r="6.0" fill="url(#gsph)" stroke="#888" stroke-width="0.8"/>
<rect x="906.2" y="524.4" width="65.79999999999995" height="67.60000000000002" stroke="#777" stroke-width="0.9" stroke-dasharray="2.6,2" fill="none"/>
<path d="M947.7,520.4 L915.3,552.4 L947.7,586.8 L980.1,554.4 Z" fill="#6464b4" fill-opacity="0.72" stroke="#7070c0" stroke-width="0.6"/>
<path d="M947.7,520.4 L939.6,558.9 L980.1,554.4 Z" fill="#8a8ad8" fill-opacity="0.35"/>
<path d="M915.3,552.4 L939.6,558.9 L947.7,586.8 Z" fill="#5050a8" fill-opacity="0.3"/>
<line x1="948.7" y1="552.8" x2="956.8" y2="546.7" stroke="#4a4ab0" stroke-width="1.0"/>
<line x1="948.7" y1="552.8" x2="980.1" y2="554.4" stroke="#4a4ab0" stroke-width="1.0"/>
<circle cx="951.5" cy="585.6" r="3.4" fill="#f6c8da" stroke="#d4488a" stroke-width="1.0" opacity="0.9"/>
<circle cx="955.0" cy="584.2" r="3.4" fill="#f6c8da" stroke="#d4488a" stroke-width="1.0" opacity="0.9"/>
<circle cx="958.4" cy="582.5" r="3.4" fill="#f6c8da" stroke="#d4488a" stroke-width="1.0" opacity="0.9"/>
<circle cx="961.5" cy="580.7" r="3.4" fill="#f6c8da" stroke="#d4488a" stroke-width="1.0" opacity="0.9"/>
<circle cx="964.4" cy="578.6" r="3.4" fill="#f6c8da" stroke="#d4488a" stroke-width="1.0" opacity="0.9"/>
<circle cx="967.1" cy="576.3" r="3.4" fill="#f6c8da" stroke="#d4488a" stroke-width="1.0" opacity="0.9"/>
<circle cx="969.6" cy="573.8" r="3.4" fill="#f6c8da" stroke="#d4488a" stroke-width="1.0" opacity="0.9"/>
<circle cx="971.9" cy="571.1" r="3.4" fill="#f6c8da" stroke="#d4488a" stroke-width="1.0" opacity="0.9"/>
<circle cx="974.0" cy="568.2" r="3.4" fill="#f6c8da" stroke="#d4488a" stroke-width="1.0" opacity="0.9"/>
<circle cx="975.8" cy="565.1" r="3.4" fill="#f6c8da" stroke="#d4488a" stroke-width="1.0" opacity="0.9"/>
<circle cx="977.5" cy="561.7" r="3.4" fill="#f6c8da" stroke="#d4488a" stroke-width="1.0" opacity="0.9"/>
<circle cx="978.9" cy="558.2" r="3.4" fill="#f6c8da" stroke="#d4488a" stroke-width="1.0" opacity="0.9"/>
<line x1="948.7" y1="552.8" x2="947.7" y2="520.4" stroke="#2c3aa0" stroke-width="2.6"/>
<line x1="948.2" y1="536.5999999999999" x2="947.7" y2="520.4" stroke="#c0407a" stroke-width="2.4"/>
<line x1="948.7" y1="552.8" x2="947.7" y2="586.8" stroke="#2c3aa0" stroke-width="2.6"/>
<line x1="948.2" y1="569.8" x2="947.7" y2="586.8" stroke="#c0407a" stroke-width="2.4"/>
<line x1="948.7" y1="552.8" x2="915.3" y2="552.4" stroke="#2c3aa0" stroke-width="2.6"/>
<line x1="932.0" y1="552.5999999999999" x2="915.3" y2="552.4" stroke="#c0407a" stroke-width="2.4"/>
<line x1="948.7" y1="552.8" x2="939.6" y2="558.9" stroke="#2c3aa0" stroke-width="2.6"/>
<line x1="944.1500000000001" y1="555.8499999999999" x2="939.6" y2="558.9" stroke="#c0407a" stroke-width="2.4"/>
<line x1="948.7" y1="552.8" x2="956.8" y2="546.7" stroke="#2c3aa0" stroke-width="2.4"/>
<circle cx="956.8" cy="546.7" r="3.6" fill="url(#psph)" stroke="#902050" stroke-width="0.6"/>
<circle cx="948.7" cy="552.8" r="7.7" fill="url(#bsph)"/>
<circle cx="947.7" cy="520.4" r="4.0" fill="url(#psph)" stroke="#902050" stroke-width="0.6"/>
<circle cx="947.7" cy="586.8" r="4.0" fill="url(#psph)" stroke="#902050" stroke-width="0.6"/>
<circle cx="915.3" cy="552.4" r="4.0" fill="url(#psph)" stroke="#902050" stroke-width="0.6"/>
<circle cx="939.6" cy="558.9" r="4.0" fill="url(#psph)" stroke="#902050" stroke-width="0.6"/>
<circle cx="906.2" cy="524.4" r="6.0" fill="url(#gsph)" stroke="#888" stroke-width="0.8"/>
<circle cx="972" cy="524.4" r="6.0" fill="url(#gsph)" stroke="#888" stroke-width="0.8"/>
<circle cx="906.2" cy="592.0" r="6.0" fill="url(#gsph)" stroke="#888" stroke-width="0.8"/>
<circle cx="972" cy="592.0" r="6.0" fill="url(#gsph)" stroke="#888" stroke-width="0.8"/>
<path d="M965,609.5 Q995,603 1005,575" fill="none" stroke="#222" stroke-width="1.5"/>
<path d="M1008,567 L1002.2,576.5 L1008.6,577.6 Z" fill="#222"/>
</svg></body></html>
